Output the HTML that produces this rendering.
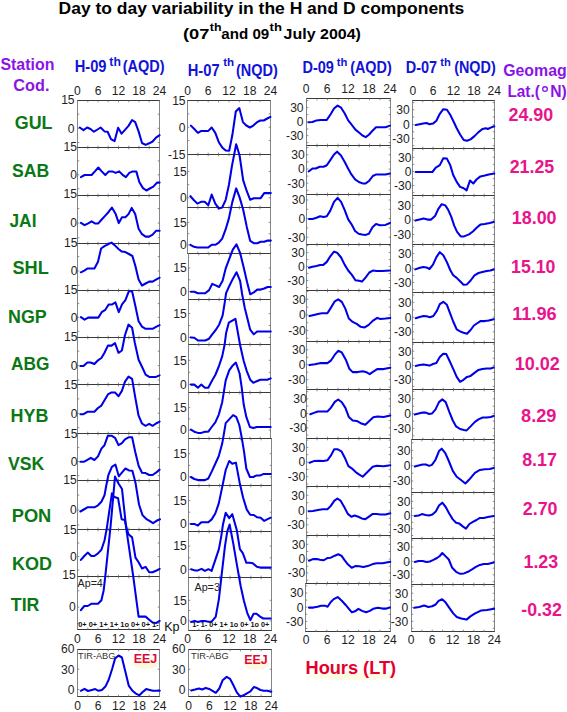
<!DOCTYPE html>
<html><head><meta charset="utf-8"><style>
html,body{margin:0;padding:0;background:#fff;width:567px;height:712px;overflow:hidden}
svg{display:block}
</style></head><body>
<svg width="567" height="712" viewBox="0 0 567 712" font-family='"Liberation Sans", sans-serif'>
<rect width="567" height="712" fill="#ffffff"/>
<ellipse cx="145.5" cy="663.5" rx="12.5" ry="5.5" fill="#fef9dc"/>
<ellipse cx="256.5" cy="664" rx="12.5" ry="5.5" fill="#fef9dc"/>
<ellipse cx="351" cy="676.5" rx="45" ry="3.5" fill="#fffae2"/>
<line x1="77.0" y1="100.5" x2="160.0" y2="100.5" stroke="#3a3a3a" stroke-width="1"/>
<line x1="77.0" y1="147.5" x2="160.0" y2="147.5" stroke="#3a3a3a" stroke-width="1"/>
<line x1="77.5" y1="100.5" x2="77.5" y2="147.5" stroke="#858585" stroke-width="1"/>
<line x1="159.5" y1="100.5" x2="159.5" y2="147.5" stroke="#858585" stroke-width="1"/>
<path d="M87.8 100.5v1.8M87.8 147.5v-1.8M98.0 100.5v1.8M98.0 147.5v-1.8M108.2 100.5v1.8M108.2 147.5v-1.8M118.5 100.5v1.8M118.5 147.5v-1.8M128.8 100.5v1.8M128.8 147.5v-1.8M139.0 100.5v1.8M139.0 147.5v-1.8M149.2 100.5v1.8M149.2 147.5v-1.8M77.5 114.2h1.8M159.5 114.2h-1.8M77.5 128.3h1.8M159.5 128.3h-1.8M77.5 142.5h1.8M159.5 142.5h-1.8" stroke="#707070" stroke-width="0.8" fill="none"/>
<line x1="77.0" y1="147.5" x2="160.0" y2="147.5" stroke="#3a3a3a" stroke-width="1"/>
<line x1="77.0" y1="195.5" x2="160.0" y2="195.5" stroke="#3a3a3a" stroke-width="1"/>
<line x1="77.5" y1="147.5" x2="77.5" y2="195.5" stroke="#858585" stroke-width="1"/>
<line x1="159.5" y1="147.5" x2="159.5" y2="195.5" stroke="#858585" stroke-width="1"/>
<path d="M87.8 147.5v1.8M87.8 195.5v-1.8M98.0 147.5v1.8M98.0 195.5v-1.8M108.2 147.5v1.8M108.2 195.5v-1.8M118.5 147.5v1.8M118.5 195.5v-1.8M128.8 147.5v1.8M128.8 195.5v-1.8M139.0 147.5v1.8M139.0 195.5v-1.8M149.2 147.5v1.8M149.2 195.5v-1.8M77.5 160.9h1.8M159.5 160.9h-1.8M77.5 174.8h1.8M159.5 174.8h-1.8M77.5 188.7h1.8M159.5 188.7h-1.8" stroke="#707070" stroke-width="0.8" fill="none"/>
<line x1="77.0" y1="195.5" x2="160.0" y2="195.5" stroke="#3a3a3a" stroke-width="1"/>
<line x1="77.0" y1="243.5" x2="160.0" y2="243.5" stroke="#3a3a3a" stroke-width="1"/>
<line x1="77.5" y1="195.5" x2="77.5" y2="243.5" stroke="#858585" stroke-width="1"/>
<line x1="159.5" y1="195.5" x2="159.5" y2="243.5" stroke="#858585" stroke-width="1"/>
<path d="M87.8 195.5v1.8M87.8 243.5v-1.8M98.0 195.5v1.8M98.0 243.5v-1.8M108.2 195.5v1.8M108.2 243.5v-1.8M118.5 195.5v1.8M118.5 243.5v-1.8M128.8 195.5v1.8M128.8 243.5v-1.8M139.0 195.5v1.8M139.0 243.5v-1.8M149.2 195.5v1.8M149.2 243.5v-1.8M77.5 208.5h1.8M159.5 208.5h-1.8M77.5 223.1h1.8M159.5 223.1h-1.8M77.5 237.7h1.8M159.5 237.7h-1.8" stroke="#707070" stroke-width="0.8" fill="none"/>
<line x1="77.0" y1="243.5" x2="160.0" y2="243.5" stroke="#3a3a3a" stroke-width="1"/>
<line x1="77.0" y1="290.5" x2="160.0" y2="290.5" stroke="#3a3a3a" stroke-width="1"/>
<line x1="77.5" y1="243.5" x2="77.5" y2="290.5" stroke="#858585" stroke-width="1"/>
<line x1="159.5" y1="243.5" x2="159.5" y2="290.5" stroke="#858585" stroke-width="1"/>
<path d="M87.8 243.5v1.8M87.8 290.5v-1.8M98.0 243.5v1.8M98.0 290.5v-1.8M108.2 243.5v1.8M108.2 290.5v-1.8M118.5 243.5v1.8M118.5 290.5v-1.8M128.8 243.5v1.8M128.8 290.5v-1.8M139.0 243.5v1.8M139.0 290.5v-1.8M149.2 243.5v1.8M149.2 290.5v-1.8M77.5 256.6h1.8M159.5 256.6h-1.8M77.5 271.0h1.8M159.5 271.0h-1.8M77.5 285.4h1.8M159.5 285.4h-1.8" stroke="#707070" stroke-width="0.8" fill="none"/>
<line x1="77.0" y1="290.5" x2="160.0" y2="290.5" stroke="#3a3a3a" stroke-width="1"/>
<line x1="77.0" y1="337.5" x2="160.0" y2="337.5" stroke="#3a3a3a" stroke-width="1"/>
<line x1="77.5" y1="290.5" x2="77.5" y2="337.5" stroke="#858585" stroke-width="1"/>
<line x1="159.5" y1="290.5" x2="159.5" y2="337.5" stroke="#858585" stroke-width="1"/>
<path d="M87.8 290.5v1.8M87.8 337.5v-1.8M98.0 290.5v1.8M98.0 337.5v-1.8M108.2 290.5v1.8M108.2 337.5v-1.8M118.5 290.5v1.8M118.5 337.5v-1.8M128.8 290.5v1.8M128.8 337.5v-1.8M139.0 290.5v1.8M139.0 337.5v-1.8M149.2 290.5v1.8M149.2 337.5v-1.8M77.5 303.6h1.8M159.5 303.6h-1.8M77.5 317.4h1.8M159.5 317.4h-1.8M77.5 331.2h1.8M159.5 331.2h-1.8" stroke="#707070" stroke-width="0.8" fill="none"/>
<line x1="77.0" y1="337.5" x2="160.0" y2="337.5" stroke="#3a3a3a" stroke-width="1"/>
<line x1="77.0" y1="384.5" x2="160.0" y2="384.5" stroke="#3a3a3a" stroke-width="1"/>
<line x1="77.5" y1="337.5" x2="77.5" y2="384.5" stroke="#858585" stroke-width="1"/>
<line x1="159.5" y1="337.5" x2="159.5" y2="384.5" stroke="#858585" stroke-width="1"/>
<path d="M87.8 337.5v1.8M87.8 384.5v-1.8M98.0 337.5v1.8M98.0 384.5v-1.8M108.2 337.5v1.8M108.2 384.5v-1.8M118.5 337.5v1.8M118.5 384.5v-1.8M128.8 337.5v1.8M128.8 384.5v-1.8M139.0 337.5v1.8M139.0 384.5v-1.8M149.2 337.5v1.8M149.2 384.5v-1.8M77.5 351.2h1.8M159.5 351.2h-1.8M77.5 365.6h1.8M159.5 365.6h-1.8M77.5 380.0h1.8M159.5 380.0h-1.8" stroke="#707070" stroke-width="0.8" fill="none"/>
<line x1="77.0" y1="384.5" x2="160.0" y2="384.5" stroke="#3a3a3a" stroke-width="1"/>
<line x1="77.0" y1="433.5" x2="160.0" y2="433.5" stroke="#3a3a3a" stroke-width="1"/>
<line x1="77.5" y1="384.5" x2="77.5" y2="433.5" stroke="#858585" stroke-width="1"/>
<line x1="159.5" y1="384.5" x2="159.5" y2="433.5" stroke="#858585" stroke-width="1"/>
<path d="M87.8 384.5v1.8M87.8 433.5v-1.8M98.0 384.5v1.8M98.0 433.5v-1.8M108.2 384.5v1.8M108.2 433.5v-1.8M118.5 384.5v1.8M118.5 433.5v-1.8M128.8 384.5v1.8M128.8 433.5v-1.8M139.0 384.5v1.8M139.0 433.5v-1.8M149.2 384.5v1.8M149.2 433.5v-1.8M77.5 398.9h1.8M159.5 398.9h-1.8M77.5 413.3h1.8M159.5 413.3h-1.8M77.5 427.7h1.8M159.5 427.7h-1.8" stroke="#707070" stroke-width="0.8" fill="none"/>
<line x1="77.0" y1="433.5" x2="160.0" y2="433.5" stroke="#3a3a3a" stroke-width="1"/>
<line x1="77.0" y1="480.5" x2="160.0" y2="480.5" stroke="#3a3a3a" stroke-width="1"/>
<line x1="77.5" y1="433.5" x2="77.5" y2="480.5" stroke="#858585" stroke-width="1"/>
<line x1="159.5" y1="433.5" x2="159.5" y2="480.5" stroke="#858585" stroke-width="1"/>
<path d="M87.8 433.5v1.8M87.8 480.5v-1.8M98.0 433.5v1.8M98.0 480.5v-1.8M108.2 433.5v1.8M108.2 480.5v-1.8M118.5 433.5v1.8M118.5 480.5v-1.8M128.8 433.5v1.8M128.8 480.5v-1.8M139.0 433.5v1.8M139.0 480.5v-1.8M149.2 433.5v1.8M149.2 480.5v-1.8M77.5 447.6h1.8M159.5 447.6h-1.8M77.5 461.6h1.8M159.5 461.6h-1.8M77.5 475.7h1.8M159.5 475.7h-1.8" stroke="#707070" stroke-width="0.8" fill="none"/>
<line x1="77.0" y1="480.5" x2="160.0" y2="480.5" stroke="#3a3a3a" stroke-width="1"/>
<line x1="77.0" y1="529.5" x2="160.0" y2="529.5" stroke="#3a3a3a" stroke-width="1"/>
<line x1="77.5" y1="480.5" x2="77.5" y2="529.5" stroke="#858585" stroke-width="1"/>
<line x1="159.5" y1="480.5" x2="159.5" y2="529.5" stroke="#858585" stroke-width="1"/>
<path d="M87.8 480.5v1.8M87.8 529.5v-1.8M98.0 480.5v1.8M98.0 529.5v-1.8M108.2 480.5v1.8M108.2 529.5v-1.8M118.5 480.5v1.8M118.5 529.5v-1.8M128.8 480.5v1.8M128.8 529.5v-1.8M139.0 480.5v1.8M139.0 529.5v-1.8M149.2 480.5v1.8M149.2 529.5v-1.8M77.5 495.1h1.8M159.5 495.1h-1.8M77.5 510.0h1.8M159.5 510.0h-1.8M77.5 525.0h1.8M159.5 525.0h-1.8" stroke="#707070" stroke-width="0.8" fill="none"/>
<line x1="77.0" y1="529.5" x2="160.0" y2="529.5" stroke="#3a3a3a" stroke-width="1"/>
<line x1="77.0" y1="576.5" x2="160.0" y2="576.5" stroke="#3a3a3a" stroke-width="1"/>
<line x1="77.5" y1="529.5" x2="77.5" y2="576.5" stroke="#858585" stroke-width="1"/>
<line x1="159.5" y1="529.5" x2="159.5" y2="576.5" stroke="#858585" stroke-width="1"/>
<path d="M87.8 529.5v1.8M87.8 576.5v-1.8M98.0 529.5v1.8M98.0 576.5v-1.8M108.2 529.5v1.8M108.2 576.5v-1.8M118.5 529.5v1.8M118.5 576.5v-1.8M128.8 529.5v1.8M128.8 576.5v-1.8M139.0 529.5v1.8M139.0 576.5v-1.8M149.2 529.5v1.8M149.2 576.5v-1.8M77.5 543.0h1.8M159.5 543.0h-1.8M77.5 556.5h1.8M159.5 556.5h-1.8M77.5 570.0h1.8M159.5 570.0h-1.8" stroke="#707070" stroke-width="0.8" fill="none"/>
<line x1="77.0" y1="576.5" x2="160.0" y2="576.5" stroke="#3a3a3a" stroke-width="1"/>
<line x1="77.0" y1="629.5" x2="160.0" y2="629.5" stroke="#3a3a3a" stroke-width="1"/>
<line x1="77.5" y1="576.5" x2="77.5" y2="629.5" stroke="#858585" stroke-width="1"/>
<line x1="159.5" y1="576.5" x2="159.5" y2="629.5" stroke="#858585" stroke-width="1"/>
<path d="M87.8 576.5v1.8M87.8 629.5v-1.8M98.0 576.5v1.8M98.0 629.5v-1.8M108.2 576.5v1.8M108.2 629.5v-1.8M118.5 576.5v1.8M118.5 629.5v-1.8M128.8 576.5v1.8M128.8 629.5v-1.8M139.0 576.5v1.8M139.0 629.5v-1.8M149.2 576.5v1.8M149.2 629.5v-1.8M77.5 590.8h1.8M159.5 590.8h-1.8M77.5 607.1h1.8M159.5 607.1h-1.8M77.5 623.4h1.8M159.5 623.4h-1.8" stroke="#707070" stroke-width="0.8" fill="none"/>
<text x="74.6" y="104.3" font-size="12.1" fill="#1e1e1e" text-anchor="end">15</text>
<text x="74.6" y="132.6" font-size="12.1" fill="#1e1e1e" text-anchor="end">0</text>
<text x="77.0" y="151.4" font-size="12.1" fill="#1e1e1e" text-anchor="end">15</text>
<text x="77.0" y="179.1" font-size="12.1" fill="#1e1e1e" text-anchor="end">0</text>
<text x="77.0" y="198.2" font-size="12.1" fill="#1e1e1e" text-anchor="end">15</text>
<text x="77.0" y="227.4" font-size="12.1" fill="#1e1e1e" text-anchor="end">0</text>
<text x="77.5" y="246.5" font-size="12.1" fill="#1e1e1e" text-anchor="end">15</text>
<text x="77.5" y="275.3" font-size="12.1" fill="#1e1e1e" text-anchor="end">0</text>
<text x="77.5" y="294.1" font-size="12.1" fill="#1e1e1e" text-anchor="end">15</text>
<text x="77.5" y="321.7" font-size="12.1" fill="#1e1e1e" text-anchor="end">0</text>
<text x="77.5" y="341.2" font-size="12.1" fill="#1e1e1e" text-anchor="end">15</text>
<text x="77.5" y="369.9" font-size="12.1" fill="#1e1e1e" text-anchor="end">0</text>
<text x="77.5" y="388.8" font-size="12.1" fill="#1e1e1e" text-anchor="end">15</text>
<text x="77.5" y="417.6" font-size="12.1" fill="#1e1e1e" text-anchor="end">0</text>
<text x="77.5" y="437.8" font-size="12.1" fill="#1e1e1e" text-anchor="end">15</text>
<text x="77.5" y="465.9" font-size="12.1" fill="#1e1e1e" text-anchor="end">0</text>
<text x="76.8" y="484.4" font-size="12.1" fill="#1e1e1e" text-anchor="end">15</text>
<text x="76.8" y="514.3" font-size="12.1" fill="#1e1e1e" text-anchor="end">0</text>
<text x="76.8" y="533.9" font-size="12.1" fill="#1e1e1e" text-anchor="end">15</text>
<text x="76.8" y="560.8" font-size="12.1" fill="#1e1e1e" text-anchor="end">0</text>
<text x="75.7" y="578.8" font-size="12.1" fill="#1e1e1e" text-anchor="end">15</text>
<text x="75.7" y="611.4" font-size="12.1" fill="#1e1e1e" text-anchor="end">0</text>
<polyline points="79.7,127.5 83.5,130.1 87.1,127.5 90.5,129.0 93.9,131.7 97.5,129.5 100.6,127.5 104.5,131.4 107.6,131.7 111.0,139.1 114.6,141.1 118.1,127.8 121.6,133.7 125.0,129.8 128.5,125.9 132.1,120.0 135.2,122.1 138.6,131.4 142.0,143.0 145.6,144.9 149.2,143.3 152.6,141.5 156.0,137.6 159.6,135.2" fill="none" stroke="#0000e8" stroke-width="2.05" stroke-linejoin="round" stroke-linecap="round"/>
<polyline points="80.9,177.1 84.6,175.0 88.2,175.0 91.6,175.0 94.9,171.4 98.3,167.5 101.7,171.4 105.3,175.0 108.8,171.4 112.2,171.4 115.7,172.9 119.2,171.4 122.6,174.8 125.9,177.1 129.3,172.9 132.7,171.4 136.3,171.4 139.4,182.2 143.0,188.1 146.4,190.5 149.8,188.5 153.4,186.6 157.0,182.6 159.6,182.6" fill="none" stroke="#0000e8" stroke-width="2.05" stroke-linejoin="round" stroke-linecap="round"/>
<polyline points="80.9,222.9 84.6,225.2 88.2,223.4 91.6,221.4 94.9,223.4 98.3,223.4 101.7,219.5 105.3,215.6 108.8,211.7 111.9,207.5 115.7,214.1 118.8,223.1 122.0,217.2 125.4,217.2 128.5,214.1 131.7,207.9 135.2,214.1 138.6,228.8 142.0,234.2 145.6,236.6 149.2,236.6 152.6,234.7 156.0,230.8 159.6,230.8" fill="none" stroke="#0000e8" stroke-width="2.05" stroke-linejoin="round" stroke-linecap="round"/>
<polyline points="80.9,272.3 84.3,270.6 87.7,268.4 91.3,268.4 94.4,268.4 98.0,261.7 101.1,248.5 104.5,246.2 107.9,244.3 111.5,242.6 114.9,245.4 118.5,249.0 121.9,251.6 125.4,252.1 128.9,254.0 132.4,256.0 135.5,266.4 138.6,279.6 142.0,285.5 145.6,283.5 149.2,281.6 152.6,281.6 156.0,279.6 159.6,277.7" fill="none" stroke="#0000e8" stroke-width="2.05" stroke-linejoin="round" stroke-linecap="round"/>
<polyline points="80.9,317.1 84.6,319.6 88.2,317.6 91.6,317.6 94.9,317.6 98.3,317.6 101.7,312.2 105.3,309.8 108.8,304.4 112.2,304.4 115.4,302.4 118.8,312.2 122.0,304.4 125.4,300.2 128.9,291.2 132.1,291.2 135.2,305.2 138.6,321.2 142.0,326.6 145.6,328.8 149.2,328.8 152.6,328.8 156.0,326.9 159.6,325.1" fill="none" stroke="#0000e8" stroke-width="2.05" stroke-linejoin="round" stroke-linecap="round"/>
<polyline points="80.4,366.0 83.5,366.0 87.4,362.5 90.5,362.5 94.4,364.0 98.0,360.3 101.4,358.0 104.5,352.8 107.9,345.6 111.5,345.6 115.0,343.2 118.5,352.8 121.9,350.5 125.0,335.0 128.5,324.6 132.1,327.7 134.8,342.8 138.6,359.8 142.0,366.8 145.6,374.6 149.2,376.9 152.6,376.9 156.0,376.9 159.6,375.4" fill="none" stroke="#0000e8" stroke-width="2.05" stroke-linejoin="round" stroke-linecap="round"/>
<polyline points="80.4,414.2 83.5,414.2 87.4,411.8 90.5,411.8 94.4,411.8 98.0,408.0 101.4,405.6 104.5,400.2 107.9,394.4 111.5,392.4 115.0,392.4 118.5,396.3 121.9,390.9 125.0,381.6 128.5,376.6 132.1,378.9 135.2,397.1 138.6,415.7 142.0,423.5 145.6,425.8 149.2,423.8 152.6,425.8 156.0,423.5 159.6,421.6" fill="none" stroke="#0000e8" stroke-width="2.05" stroke-linejoin="round" stroke-linecap="round"/>
<polyline points="80.4,461.8 83.8,461.8 87.4,459.8 90.8,457.9 94.4,460.0 98.0,456.4 101.4,448.6 104.5,445.2 107.9,435.7 111.5,435.7 115.0,437.8 118.5,445.1 121.9,443.2 125.0,439.3 128.5,437.3 132.1,437.3 135.2,451.7 138.6,465.7 142.0,472.7 145.6,473.1 149.2,475.0 152.6,475.0 156.0,472.7 159.6,469.6" fill="none" stroke="#0000e8" stroke-width="2.05" stroke-linejoin="round" stroke-linecap="round"/>
<polyline points="80.4,511.5 83.8,509.5 87.4,507.3 90.8,507.3 94.4,507.3 98.0,505.3 101.4,501.7 104.5,495.2 106.8,482.8 108.4,475.0 111.9,466.8 115.4,464.5 118.8,476.3 122.3,472.2 125.4,468.5 129.0,470.4 132.4,470.7 135.5,482.8 139.0,504.5 142.5,515.1 146.1,518.8 149.5,520.8 153.1,523.1 156.5,520.8 160.0,519.2" fill="none" stroke="#0000e8" stroke-width="2.05" stroke-linejoin="round" stroke-linecap="round"/>
<polyline points="80.9,559.9 84.3,556.0 87.7,552.6 91.3,556.0 94.4,556.0 98.0,553.4 101.4,549.8 104.5,540.5 106.8,528.1 111.9,493.3 113.8,496.7 118.1,498.3 121.6,519.2 124.7,520.0 127.0,529.7 128.5,534.3 132.1,537.4 135.5,557.6 138.6,562.3 142.0,568.5 145.6,566.9 149.2,572.3 152.6,572.3 156.0,570.8 159.6,568.8" fill="none" stroke="#0000e8" stroke-width="2.05" stroke-linejoin="round" stroke-linecap="round"/>
<polyline points="80.9,610.1 84.3,606.0 87.7,606.0 91.3,603.8 94.4,603.8 98.0,603.8 101.4,600.3 103.7,590.2 105.3,576.2 110.7,525.0 115.0,476.6 118.5,483.5 122.0,489.0 126.2,528.1 133.2,576.2 138.6,616.6 142.0,616.6 145.6,616.6 149.2,619.7 152.6,622.5 156.0,623.1 159.6,620.9" fill="none" stroke="#0000e8" stroke-width="2.05" stroke-linejoin="round" stroke-linecap="round"/>
<line x1="187.0" y1="100.5" x2="271.0" y2="100.5" stroke="#3a3a3a" stroke-width="1"/>
<line x1="187.0" y1="154.5" x2="271.0" y2="154.5" stroke="#3a3a3a" stroke-width="1"/>
<line x1="187.5" y1="100.5" x2="187.5" y2="154.5" stroke="#858585" stroke-width="1"/>
<line x1="270.5" y1="100.5" x2="270.5" y2="154.5" stroke="#858585" stroke-width="1"/>
<path d="M197.9 100.5v1.8M197.9 154.5v-1.8M208.2 100.5v1.8M208.2 154.5v-1.8M218.6 100.5v1.8M218.6 154.5v-1.8M229.0 100.5v1.8M229.0 154.5v-1.8M239.4 100.5v1.8M239.4 154.5v-1.8M249.8 100.5v1.8M249.8 154.5v-1.8M260.1 100.5v1.8M260.1 154.5v-1.8M187.5 113.9h1.8M270.5 113.9h-1.8M187.5 127.2h1.8M270.5 127.2h-1.8M187.5 140.5h1.8M270.5 140.5h-1.8" stroke="#707070" stroke-width="0.8" fill="none"/>
<line x1="187.0" y1="154.5" x2="271.0" y2="154.5" stroke="#3a3a3a" stroke-width="1"/>
<line x1="187.0" y1="207.5" x2="271.0" y2="207.5" stroke="#3a3a3a" stroke-width="1"/>
<line x1="187.5" y1="154.5" x2="187.5" y2="207.5" stroke="#858585" stroke-width="1"/>
<line x1="270.5" y1="154.5" x2="270.5" y2="207.5" stroke="#858585" stroke-width="1"/>
<path d="M197.9 154.5v1.8M197.9 207.5v-1.8M208.2 154.5v1.8M208.2 207.5v-1.8M218.6 154.5v1.8M218.6 207.5v-1.8M229.0 154.5v1.8M229.0 207.5v-1.8M239.4 154.5v1.8M239.4 207.5v-1.8M249.8 154.5v1.8M249.8 207.5v-1.8M260.1 154.5v1.8M260.1 207.5v-1.8M187.5 171.5h1.8M270.5 171.5h-1.8M187.5 184.7h1.8M270.5 184.7h-1.8M187.5 197.8h1.8M270.5 197.8h-1.8" stroke="#707070" stroke-width="0.8" fill="none"/>
<line x1="187.0" y1="207.5" x2="271.0" y2="207.5" stroke="#3a3a3a" stroke-width="1"/>
<line x1="187.0" y1="253.5" x2="271.0" y2="253.5" stroke="#3a3a3a" stroke-width="1"/>
<line x1="187.5" y1="207.5" x2="187.5" y2="253.5" stroke="#858585" stroke-width="1"/>
<line x1="270.5" y1="207.5" x2="270.5" y2="253.5" stroke="#858585" stroke-width="1"/>
<path d="M197.9 207.5v1.8M197.9 253.5v-1.8M208.2 207.5v1.8M208.2 253.5v-1.8M218.6 207.5v1.8M218.6 253.5v-1.8M229.0 207.5v1.8M229.0 253.5v-1.8M239.4 207.5v1.8M239.4 253.5v-1.8M249.8 207.5v1.8M249.8 253.5v-1.8M260.1 207.5v1.8M260.1 253.5v-1.8M187.5 222.4h1.8M270.5 222.4h-1.8M187.5 233.7h1.8M270.5 233.7h-1.8M187.5 245.0h1.8M270.5 245.0h-1.8" stroke="#707070" stroke-width="0.8" fill="none"/>
<line x1="188.0" y1="253.5" x2="271.0" y2="253.5" stroke="#3a3a3a" stroke-width="1"/>
<line x1="188.0" y1="299.5" x2="271.0" y2="299.5" stroke="#3a3a3a" stroke-width="1"/>
<line x1="188.5" y1="253.5" x2="188.5" y2="299.5" stroke="#858585" stroke-width="1"/>
<line x1="270.5" y1="253.5" x2="270.5" y2="299.5" stroke="#858585" stroke-width="1"/>
<path d="M198.8 253.5v1.8M198.8 299.5v-1.8M209.0 253.5v1.8M209.0 299.5v-1.8M219.2 253.5v1.8M219.2 299.5v-1.8M229.5 253.5v1.8M229.5 299.5v-1.8M239.8 253.5v1.8M239.8 299.5v-1.8M250.0 253.5v1.8M250.0 299.5v-1.8M260.2 253.5v1.8M260.2 299.5v-1.8M188.5 268.0h1.8M270.5 268.0h-1.8M188.5 279.8h1.8M270.5 279.8h-1.8M188.5 291.6h1.8M270.5 291.6h-1.8" stroke="#707070" stroke-width="0.8" fill="none"/>
<line x1="188.0" y1="299.5" x2="271.0" y2="299.5" stroke="#3a3a3a" stroke-width="1"/>
<line x1="188.0" y1="344.5" x2="271.0" y2="344.5" stroke="#3a3a3a" stroke-width="1"/>
<line x1="188.5" y1="299.5" x2="188.5" y2="344.5" stroke="#858585" stroke-width="1"/>
<line x1="270.5" y1="299.5" x2="270.5" y2="344.5" stroke="#858585" stroke-width="1"/>
<path d="M198.8 299.5v1.8M198.8 344.5v-1.8M209.0 299.5v1.8M209.0 344.5v-1.8M219.2 299.5v1.8M219.2 344.5v-1.8M229.5 299.5v1.8M229.5 344.5v-1.8M239.8 299.5v1.8M239.8 344.5v-1.8M250.0 299.5v1.8M250.0 344.5v-1.8M260.2 299.5v1.8M260.2 344.5v-1.8M188.5 313.6h1.8M270.5 313.6h-1.8M188.5 325.5h1.8M270.5 325.5h-1.8M188.5 337.4h1.8M270.5 337.4h-1.8" stroke="#707070" stroke-width="0.8" fill="none"/>
<line x1="188.0" y1="344.5" x2="271.0" y2="344.5" stroke="#3a3a3a" stroke-width="1"/>
<line x1="188.0" y1="392.5" x2="271.0" y2="392.5" stroke="#3a3a3a" stroke-width="1"/>
<line x1="188.5" y1="344.5" x2="188.5" y2="392.5" stroke="#858585" stroke-width="1"/>
<line x1="270.5" y1="344.5" x2="270.5" y2="392.5" stroke="#858585" stroke-width="1"/>
<path d="M198.8 344.5v1.8M198.8 392.5v-1.8M209.0 344.5v1.8M209.0 392.5v-1.8M219.2 344.5v1.8M219.2 392.5v-1.8M229.5 344.5v1.8M229.5 392.5v-1.8M239.8 344.5v1.8M239.8 392.5v-1.8M250.0 344.5v1.8M250.0 392.5v-1.8M260.2 344.5v1.8M260.2 392.5v-1.8M188.5 360.3h1.8M270.5 360.3h-1.8M188.5 372.3h1.8M270.5 372.3h-1.8M188.5 384.3h1.8M270.5 384.3h-1.8" stroke="#707070" stroke-width="0.8" fill="none"/>
<line x1="188.0" y1="392.5" x2="271.0" y2="392.5" stroke="#3a3a3a" stroke-width="1"/>
<line x1="188.0" y1="438.5" x2="271.0" y2="438.5" stroke="#3a3a3a" stroke-width="1"/>
<line x1="188.5" y1="392.5" x2="188.5" y2="438.5" stroke="#858585" stroke-width="1"/>
<line x1="270.5" y1="392.5" x2="270.5" y2="438.5" stroke="#858585" stroke-width="1"/>
<path d="M198.8 392.5v1.8M198.8 438.5v-1.8M209.0 392.5v1.8M209.0 438.5v-1.8M219.2 392.5v1.8M219.2 438.5v-1.8M229.5 392.5v1.8M229.5 438.5v-1.8M239.8 392.5v1.8M239.8 438.5v-1.8M250.0 392.5v1.8M250.0 438.5v-1.8M260.2 392.5v1.8M260.2 438.5v-1.8M188.5 407.6h1.8M270.5 407.6h-1.8M188.5 418.9h1.8M270.5 418.9h-1.8M188.5 430.1h1.8M270.5 430.1h-1.8" stroke="#707070" stroke-width="0.8" fill="none"/>
<line x1="188.0" y1="438.5" x2="272.0" y2="438.5" stroke="#3a3a3a" stroke-width="1"/>
<line x1="188.0" y1="485.5" x2="272.0" y2="485.5" stroke="#3a3a3a" stroke-width="1"/>
<line x1="188.5" y1="438.5" x2="188.5" y2="485.5" stroke="#858585" stroke-width="1"/>
<line x1="271.5" y1="438.5" x2="271.5" y2="485.5" stroke="#858585" stroke-width="1"/>
<path d="M198.9 438.5v1.8M198.9 485.5v-1.8M209.2 438.5v1.8M209.2 485.5v-1.8M219.6 438.5v1.8M219.6 485.5v-1.8M230.0 438.5v1.8M230.0 485.5v-1.8M240.4 438.5v1.8M240.4 485.5v-1.8M250.8 438.5v1.8M250.8 485.5v-1.8M261.1 438.5v1.8M261.1 485.5v-1.8M188.5 453.7h1.8M271.5 453.7h-1.8M188.5 465.4h1.8M271.5 465.4h-1.8M188.5 477.0h1.8M271.5 477.0h-1.8" stroke="#707070" stroke-width="0.8" fill="none"/>
<line x1="188.0" y1="485.5" x2="272.0" y2="485.5" stroke="#3a3a3a" stroke-width="1"/>
<line x1="188.0" y1="531.5" x2="272.0" y2="531.5" stroke="#3a3a3a" stroke-width="1"/>
<line x1="188.5" y1="485.5" x2="188.5" y2="531.5" stroke="#858585" stroke-width="1"/>
<line x1="271.5" y1="485.5" x2="271.5" y2="531.5" stroke="#858585" stroke-width="1"/>
<path d="M198.9 485.5v1.8M198.9 531.5v-1.8M209.2 485.5v1.8M209.2 531.5v-1.8M219.6 485.5v1.8M219.6 531.5v-1.8M230.0 485.5v1.8M230.0 531.5v-1.8M240.4 485.5v1.8M240.4 531.5v-1.8M250.8 485.5v1.8M250.8 531.5v-1.8M261.1 485.5v1.8M261.1 531.5v-1.8M188.5 500.6h1.8M271.5 500.6h-1.8M188.5 512.2h1.8M271.5 512.2h-1.8M188.5 523.7h1.8M271.5 523.7h-1.8" stroke="#707070" stroke-width="0.8" fill="none"/>
<line x1="188.0" y1="531.5" x2="272.0" y2="531.5" stroke="#3a3a3a" stroke-width="1"/>
<line x1="188.0" y1="577.5" x2="272.0" y2="577.5" stroke="#3a3a3a" stroke-width="1"/>
<line x1="188.5" y1="531.5" x2="188.5" y2="577.5" stroke="#858585" stroke-width="1"/>
<line x1="271.5" y1="531.5" x2="271.5" y2="577.5" stroke="#858585" stroke-width="1"/>
<path d="M198.9 531.5v1.8M198.9 577.5v-1.8M209.2 531.5v1.8M209.2 577.5v-1.8M219.6 531.5v1.8M219.6 577.5v-1.8M230.0 531.5v1.8M230.0 577.5v-1.8M240.4 531.5v1.8M240.4 577.5v-1.8M250.8 531.5v1.8M250.8 577.5v-1.8M261.1 531.5v1.8M261.1 577.5v-1.8M188.5 546.1h1.8M271.5 546.1h-1.8M188.5 557.8h1.8M271.5 557.8h-1.8M188.5 569.4h1.8M271.5 569.4h-1.8" stroke="#707070" stroke-width="0.8" fill="none"/>
<line x1="188.0" y1="577.5" x2="272.0" y2="577.5" stroke="#3a3a3a" stroke-width="1"/>
<line x1="188.0" y1="630.5" x2="272.0" y2="630.5" stroke="#3a3a3a" stroke-width="1"/>
<line x1="188.5" y1="577.5" x2="188.5" y2="630.5" stroke="#858585" stroke-width="1"/>
<line x1="271.5" y1="577.5" x2="271.5" y2="630.5" stroke="#858585" stroke-width="1"/>
<path d="M198.9 577.5v1.8M198.9 630.5v-1.8M209.2 577.5v1.8M209.2 630.5v-1.8M219.6 577.5v1.8M219.6 630.5v-1.8M230.0 577.5v1.8M230.0 630.5v-1.8M240.4 577.5v1.8M240.4 630.5v-1.8M250.8 577.5v1.8M250.8 630.5v-1.8M261.1 577.5v1.8M261.1 630.5v-1.8M188.5 600.3h1.8M271.5 600.3h-1.8M188.5 610.5h1.8M271.5 610.5h-1.8M188.5 620.8h1.8M271.5 620.8h-1.8" stroke="#707070" stroke-width="0.8" fill="none"/>
<text x="185.6" y="104.9" font-size="12.1" fill="#1e1e1e" text-anchor="end">15</text>
<text x="185.6" y="131.5" font-size="12.1" fill="#1e1e1e" text-anchor="end">0</text>
<text x="186.8" y="175.8" font-size="12.1" fill="#1e1e1e" text-anchor="end">15</text>
<text x="186.8" y="202.1" font-size="12.1" fill="#1e1e1e" text-anchor="end">0</text>
<text x="186.8" y="226.7" font-size="12.1" fill="#1e1e1e" text-anchor="end">15</text>
<text x="186.8" y="249.3" font-size="12.1" fill="#1e1e1e" text-anchor="end">0</text>
<text x="186.8" y="272.3" font-size="12.1" fill="#1e1e1e" text-anchor="end">15</text>
<text x="186.8" y="295.9" font-size="12.1" fill="#1e1e1e" text-anchor="end">0</text>
<text x="186.8" y="317.9" font-size="12.1" fill="#1e1e1e" text-anchor="end">15</text>
<text x="186.8" y="341.7" font-size="12.1" fill="#1e1e1e" text-anchor="end">0</text>
<text x="186.8" y="364.6" font-size="12.1" fill="#1e1e1e" text-anchor="end">15</text>
<text x="186.8" y="388.6" font-size="12.1" fill="#1e1e1e" text-anchor="end">0</text>
<text x="186.8" y="411.9" font-size="12.1" fill="#1e1e1e" text-anchor="end">15</text>
<text x="186.8" y="434.4" font-size="12.1" fill="#1e1e1e" text-anchor="end">0</text>
<text x="186.8" y="458.0" font-size="12.1" fill="#1e1e1e" text-anchor="end">15</text>
<text x="186.8" y="481.3" font-size="12.1" fill="#1e1e1e" text-anchor="end">0</text>
<text x="186.8" y="504.9" font-size="12.1" fill="#1e1e1e" text-anchor="end">15</text>
<text x="186.8" y="528.0" font-size="12.1" fill="#1e1e1e" text-anchor="end">0</text>
<text x="186.8" y="550.4" font-size="12.1" fill="#1e1e1e" text-anchor="end">15</text>
<text x="186.8" y="573.7" font-size="12.1" fill="#1e1e1e" text-anchor="end">0</text>
<text x="186.8" y="604.6" font-size="12.1" fill="#1e1e1e" text-anchor="end">15</text>
<text x="186.8" y="625.1" font-size="12.1" fill="#1e1e1e" text-anchor="end">0</text>
<polyline points="190.9,125.6 194.3,129.0 197.9,132.9 201.3,130.9 204.9,130.9 208.3,130.9 211.7,127.5 215.3,132.9 218.8,142.2 222.2,147.4 225.7,150.5 229.2,150.8 232.3,135.3 235.8,111.5 239.3,108.1 242.9,122.1 246.3,125.5 249.9,127.5 253.3,125.6 256.7,122.4 260.3,120.5 263.7,120.5 267.3,118.5 270.4,116.9" fill="none" stroke="#0000e8" stroke-width="2.05" stroke-linejoin="round" stroke-linecap="round"/>
<polyline points="190.4,196.2 194.0,200.2 197.4,203.6 201.0,201.8 204.7,201.8 208.3,205.2 211.7,194.6 215.3,203.6 218.8,208.6 222.2,207.5 225.7,199.8 228.9,185.0 232.0,165.6 236.2,144.3 239.6,155.5 243.2,180.4 246.8,191.2 250.2,199.8 253.8,198.2 257.2,198.2 260.7,198.2 264.2,193.1 267.6,193.1 270.8,193.1" fill="none" stroke="#0000e8" stroke-width="2.05" stroke-linejoin="round" stroke-linecap="round"/>
<polyline points="190.4,244.8 194.0,246.8 197.4,247.4 201.0,247.4 204.7,247.4 208.3,247.4 211.7,244.8 215.3,244.8 218.8,242.7 222.2,238.6 225.7,229.2 228.9,218.4 232.3,202.1 236.2,188.4 239.6,197.4 243.2,209.8 246.8,226.9 250.2,240.9 253.8,243.2 257.2,243.2 260.7,241.7 264.2,241.7 267.6,240.6 270.8,240.6" fill="none" stroke="#0000e8" stroke-width="2.05" stroke-linejoin="round" stroke-linecap="round"/>
<polyline points="190.9,291.7 194.3,291.7 197.9,293.2 201.3,293.2 205.2,293.2 209.1,290.1 212.2,283.9 215.7,285.4 219.1,287.0 222.6,280.8 225.7,268.4 229.2,259.1 232.8,249.7 236.5,244.3 240.1,252.8 243.7,267.6 247.1,282.3 250.2,294.3 253.8,292.4 257.2,289.6 260.7,289.6 264.2,288.5 267.6,287.0 270.8,287.0" fill="none" stroke="#0000e8" stroke-width="2.05" stroke-linejoin="round" stroke-linecap="round"/>
<polyline points="190.9,337.4 194.3,337.7 197.9,340.5 201.3,340.5 205.2,340.5 209.1,338.7 212.2,334.3 215.7,330.0 219.1,324.7 222.6,315.7 224.6,303.3 226.1,293.2 229.2,286.2 232.8,278.9 236.5,272.2 240.1,280.8 242.1,294.0 244.8,308.0 247.1,317.3 250.2,329.7 253.8,334.3 257.2,331.5 260.7,331.5 264.2,331.5 267.6,331.5 270.8,331.5" fill="none" stroke="#0000e8" stroke-width="2.05" stroke-linejoin="round" stroke-linecap="round"/>
<polyline points="190.9,384.6 194.3,384.6 197.9,387.7 201.3,384.6 204.9,387.7 208.3,387.7 211.7,381.2 215.3,375.0 218.8,366.5 222.2,356.4 224.6,344.7 226.1,333.1 228.8,322.7 235.4,318.8 240.1,345.0 243.7,361.0 246.8,371.1 250.2,379.7 253.3,382.8 256.7,381.2 260.3,379.7 263.8,379.7 267.3,379.7 270.7,378.4" fill="none" stroke="#0000e8" stroke-width="2.05" stroke-linejoin="round" stroke-linecap="round"/>
<polyline points="190.9,429.6 194.3,431.7 197.9,432.9 201.3,432.9 204.9,431.7 208.3,431.7 211.7,427.0 215.3,422.3 218.8,414.6 222.2,402.2 223.8,392.1 225.7,380.4 229.2,370.4 232.8,365.4 235.9,362.6 239.6,373.5 241.7,387.4 243.7,404.5 246.3,416.9 249.9,427.0 253.3,428.1 256.7,427.0 260.3,427.0 263.8,427.0 267.3,427.0 270.7,427.0" fill="none" stroke="#0000e8" stroke-width="2.05" stroke-linejoin="round" stroke-linecap="round"/>
<polyline points="190.9,477.0 194.3,479.0 197.9,480.1 201.3,480.1 204.9,480.1 208.3,478.5 211.7,471.6 215.3,463.8 218.8,456.0 222.2,443.6 223.8,434.3 225.7,423.1 233.1,415.1 236.2,416.9 239.3,425.0 241.7,437.4 244.0,451.4 246.3,468.5 249.9,477.0 253.3,477.0 256.7,475.4 260.3,475.4 263.8,473.9 267.3,473.9 270.7,473.9" fill="none" stroke="#0000e8" stroke-width="2.05" stroke-linejoin="round" stroke-linecap="round"/>
<polyline points="190.9,523.9 194.3,523.9 197.9,525.6 201.3,522.3 204.9,522.3 208.3,522.3 211.7,519.4 215.3,513.5 218.8,503.4 222.2,487.1 225.7,470.0 229.2,461.0 232.3,463.8 235.9,462.6 239.6,482.4 243.2,498.0 246.8,509.6 250.2,514.7 253.8,515.0 257.2,517.3 260.7,517.8 264.2,520.9 267.6,519.2 270.7,517.7" fill="none" stroke="#0000e8" stroke-width="2.05" stroke-linejoin="round" stroke-linecap="round"/>
<polyline points="191.1,569.2 194.7,570.4 197.9,570.4 201.6,568.9 204.9,570.9 208.4,569.2 211.6,570.9 214.9,561.2 218.9,549.1 221.3,536.1 222.9,524.8 225.7,512.7 229.2,518.1 232.3,514.2 236.7,529.7 239.9,549.1 242.8,553.1 246.4,562.8 249.6,562.8 252.8,563.3 256.9,566.8 260.1,567.6 263.8,567.6 267.4,567.6 270.6,567.6" fill="none" stroke="#0000e8" stroke-width="2.05" stroke-linejoin="round" stroke-linecap="round"/>
<polyline points="191.1,622.0 194.7,620.9 197.9,622.0 201.6,620.9 204.9,620.9 208.4,621.7 211.6,621.7 215.7,616.9 218.9,599.1 221.8,573.3 225.0,545.8 227.3,531.3 229.6,524.5 233.1,542.6 236.7,563.6 240.7,586.2 243.9,600.7 247.2,612.8 250.4,620.1 253.6,613.7 256.5,613.7 260.1,616.6 263.3,618.5 267.4,618.5 270.6,618.5" fill="none" stroke="#0000e8" stroke-width="2.05" stroke-linejoin="round" stroke-linecap="round"/>
<text x="185.4" y="158.6" font-size="12.1" fill="#1e1e1e" text-anchor="end">-15</text>
<line x1="306.0" y1="98.5" x2="391.0" y2="98.5" stroke="#3a3a3a" stroke-width="1"/>
<line x1="306.0" y1="145.5" x2="391.0" y2="145.5" stroke="#3a3a3a" stroke-width="1"/>
<line x1="306.5" y1="98.5" x2="306.5" y2="145.5" stroke="#858585" stroke-width="1"/>
<line x1="390.5" y1="98.5" x2="390.5" y2="145.5" stroke="#858585" stroke-width="1"/>
<path d="M317.0 98.5v1.8M317.0 145.5v-1.8M327.5 98.5v1.8M327.5 145.5v-1.8M338.0 98.5v1.8M338.0 145.5v-1.8M348.5 98.5v1.8M348.5 145.5v-1.8M359.0 98.5v1.8M359.0 145.5v-1.8M369.5 98.5v1.8M369.5 145.5v-1.8M380.0 98.5v1.8M380.0 145.5v-1.8M306.5 100.6h1.8M390.5 100.6h-1.8M306.5 107.6h1.8M390.5 107.6h-1.8M306.5 114.6h1.8M390.5 114.6h-1.8M306.5 122.0h1.8M390.5 122.0h-1.8M306.5 129.0h1.8M390.5 129.0h-1.8M306.5 135.6h1.8M390.5 135.6h-1.8M306.5 142.6h1.8M390.5 142.6h-1.8" stroke="#707070" stroke-width="0.8" fill="none"/>
<line x1="306.0" y1="145.5" x2="391.0" y2="145.5" stroke="#3a3a3a" stroke-width="1"/>
<line x1="306.0" y1="194.5" x2="391.0" y2="194.5" stroke="#3a3a3a" stroke-width="1"/>
<line x1="306.5" y1="145.5" x2="306.5" y2="194.5" stroke="#858585" stroke-width="1"/>
<line x1="390.5" y1="145.5" x2="390.5" y2="194.5" stroke="#858585" stroke-width="1"/>
<path d="M317.0 145.5v1.8M317.0 194.5v-1.8M327.5 145.5v1.8M327.5 194.5v-1.8M338.0 145.5v1.8M338.0 194.5v-1.8M348.5 145.5v1.8M348.5 194.5v-1.8M359.0 145.5v1.8M359.0 194.5v-1.8M369.5 145.5v1.8M369.5 194.5v-1.8M380.0 145.5v1.8M380.0 194.5v-1.8M306.5 147.7h1.8M390.5 147.7h-1.8M306.5 154.8h1.8M390.5 154.8h-1.8M306.5 161.9h1.8M390.5 161.9h-1.8M306.5 169.0h1.8M390.5 169.0h-1.8M306.5 176.1h1.8M390.5 176.1h-1.8M306.5 183.2h1.8M390.5 183.2h-1.8M306.5 190.3h1.8M390.5 190.3h-1.8" stroke="#707070" stroke-width="0.8" fill="none"/>
<line x1="306.0" y1="194.5" x2="391.0" y2="194.5" stroke="#3a3a3a" stroke-width="1"/>
<line x1="306.0" y1="244.5" x2="391.0" y2="244.5" stroke="#3a3a3a" stroke-width="1"/>
<line x1="306.5" y1="194.5" x2="306.5" y2="244.5" stroke="#858585" stroke-width="1"/>
<line x1="390.5" y1="194.5" x2="390.5" y2="244.5" stroke="#858585" stroke-width="1"/>
<path d="M317.0 194.5v1.8M317.0 244.5v-1.8M327.5 194.5v1.8M327.5 244.5v-1.8M338.0 194.5v1.8M338.0 244.5v-1.8M348.5 194.5v1.8M348.5 244.5v-1.8M359.0 194.5v1.8M359.0 244.5v-1.8M369.5 194.5v1.8M369.5 244.5v-1.8M380.0 194.5v1.8M380.0 244.5v-1.8M306.5 200.0h1.8M390.5 200.0h-1.8M306.5 209.3h1.8M390.5 209.3h-1.8M306.5 218.6h1.8M390.5 218.6h-1.8M306.5 227.9h1.8M390.5 227.9h-1.8M306.5 237.2h1.8M390.5 237.2h-1.8" stroke="#707070" stroke-width="0.8" fill="none"/>
<line x1="306.0" y1="244.5" x2="391.0" y2="244.5" stroke="#3a3a3a" stroke-width="1"/>
<line x1="306.0" y1="290.5" x2="391.0" y2="290.5" stroke="#3a3a3a" stroke-width="1"/>
<line x1="306.5" y1="244.5" x2="306.5" y2="290.5" stroke="#858585" stroke-width="1"/>
<line x1="390.5" y1="244.5" x2="390.5" y2="290.5" stroke="#858585" stroke-width="1"/>
<path d="M317.0 244.5v1.8M317.0 290.5v-1.8M327.5 244.5v1.8M327.5 290.5v-1.8M338.0 244.5v1.8M338.0 290.5v-1.8M348.5 244.5v1.8M348.5 290.5v-1.8M359.0 244.5v1.8M359.0 290.5v-1.8M369.5 244.5v1.8M369.5 290.5v-1.8M380.0 244.5v1.8M380.0 290.5v-1.8M306.5 245.6h1.8M390.5 245.6h-1.8M306.5 252.6h1.8M390.5 252.6h-1.8M306.5 259.6h1.8M390.5 259.6h-1.8M306.5 266.5h1.8M390.5 266.5h-1.8M306.5 273.5h1.8M390.5 273.5h-1.8M306.5 280.5h1.8M390.5 280.5h-1.8M306.5 287.5h1.8M390.5 287.5h-1.8" stroke="#707070" stroke-width="0.8" fill="none"/>
<line x1="306.0" y1="290.5" x2="391.0" y2="290.5" stroke="#3a3a3a" stroke-width="1"/>
<line x1="306.0" y1="341.5" x2="391.0" y2="341.5" stroke="#3a3a3a" stroke-width="1"/>
<line x1="306.5" y1="290.5" x2="306.5" y2="341.5" stroke="#858585" stroke-width="1"/>
<line x1="390.5" y1="290.5" x2="390.5" y2="341.5" stroke="#858585" stroke-width="1"/>
<path d="M317.0 290.5v1.8M317.0 341.5v-1.8M327.5 290.5v1.8M327.5 341.5v-1.8M338.0 290.5v1.8M338.0 341.5v-1.8M348.5 290.5v1.8M348.5 341.5v-1.8M359.0 290.5v1.8M359.0 341.5v-1.8M369.5 290.5v1.8M369.5 341.5v-1.8M380.0 290.5v1.8M380.0 341.5v-1.8M306.5 291.5h1.8M390.5 291.5h-1.8M306.5 299.3h1.8M390.5 299.3h-1.8M306.5 307.1h1.8M390.5 307.1h-1.8M306.5 314.9h1.8M390.5 314.9h-1.8M306.5 322.7h1.8M390.5 322.7h-1.8M306.5 330.4h1.8M390.5 330.4h-1.8M306.5 338.2h1.8M390.5 338.2h-1.8" stroke="#707070" stroke-width="0.8" fill="none"/>
<line x1="306.0" y1="341.5" x2="391.0" y2="341.5" stroke="#3a3a3a" stroke-width="1"/>
<line x1="306.0" y1="389.5" x2="391.0" y2="389.5" stroke="#3a3a3a" stroke-width="1"/>
<line x1="306.5" y1="341.5" x2="306.5" y2="389.5" stroke="#858585" stroke-width="1"/>
<line x1="390.5" y1="341.5" x2="390.5" y2="389.5" stroke="#858585" stroke-width="1"/>
<path d="M317.0 341.5v1.8M317.0 389.5v-1.8M327.5 341.5v1.8M327.5 389.5v-1.8M338.0 341.5v1.8M338.0 389.5v-1.8M348.5 341.5v1.8M348.5 389.5v-1.8M359.0 341.5v1.8M359.0 389.5v-1.8M369.5 341.5v1.8M369.5 389.5v-1.8M380.0 341.5v1.8M380.0 389.5v-1.8M306.5 349.8h1.8M390.5 349.8h-1.8M306.5 357.3h1.8M390.5 357.3h-1.8M306.5 364.7h1.8M390.5 364.7h-1.8M306.5 372.2h1.8M390.5 372.2h-1.8M306.5 379.7h1.8M390.5 379.7h-1.8M306.5 387.2h1.8M390.5 387.2h-1.8" stroke="#707070" stroke-width="0.8" fill="none"/>
<line x1="306.0" y1="389.5" x2="391.0" y2="389.5" stroke="#3a3a3a" stroke-width="1"/>
<line x1="306.0" y1="438.5" x2="391.0" y2="438.5" stroke="#3a3a3a" stroke-width="1"/>
<line x1="306.5" y1="389.5" x2="306.5" y2="438.5" stroke="#858585" stroke-width="1"/>
<line x1="390.5" y1="389.5" x2="390.5" y2="438.5" stroke="#858585" stroke-width="1"/>
<path d="M317.0 389.5v1.8M317.0 438.5v-1.8M327.5 389.5v1.8M327.5 438.5v-1.8M338.0 389.5v1.8M338.0 438.5v-1.8M348.5 389.5v1.8M348.5 438.5v-1.8M359.0 389.5v1.8M359.0 438.5v-1.8M369.5 389.5v1.8M369.5 438.5v-1.8M380.0 389.5v1.8M380.0 438.5v-1.8M306.5 391.7h1.8M390.5 391.7h-1.8M306.5 398.9h1.8M390.5 398.9h-1.8M306.5 406.1h1.8M390.5 406.1h-1.8M306.5 413.5h1.8M390.5 413.5h-1.8M306.5 420.7h1.8M390.5 420.7h-1.8M306.5 427.8h1.8M390.5 427.8h-1.8M306.5 435.0h1.8M390.5 435.0h-1.8" stroke="#707070" stroke-width="0.8" fill="none"/>
<line x1="306.0" y1="438.5" x2="391.0" y2="438.5" stroke="#3a3a3a" stroke-width="1"/>
<line x1="306.0" y1="486.5" x2="391.0" y2="486.5" stroke="#3a3a3a" stroke-width="1"/>
<line x1="306.5" y1="438.5" x2="306.5" y2="486.5" stroke="#858585" stroke-width="1"/>
<line x1="390.5" y1="438.5" x2="390.5" y2="486.5" stroke="#858585" stroke-width="1"/>
<path d="M317.0 438.5v1.8M317.0 486.5v-1.8M327.5 438.5v1.8M327.5 486.5v-1.8M338.0 438.5v1.8M338.0 486.5v-1.8M348.5 438.5v1.8M348.5 486.5v-1.8M359.0 438.5v1.8M359.0 486.5v-1.8M369.5 438.5v1.8M369.5 486.5v-1.8M380.0 438.5v1.8M380.0 486.5v-1.8M306.5 440.1h1.8M390.5 440.1h-1.8M306.5 447.4h1.8M390.5 447.4h-1.8M306.5 454.7h1.8M390.5 454.7h-1.8M306.5 462.1h1.8M390.5 462.1h-1.8M306.5 469.4h1.8M390.5 469.4h-1.8M306.5 476.7h1.8M390.5 476.7h-1.8M306.5 484.0h1.8M390.5 484.0h-1.8" stroke="#707070" stroke-width="0.8" fill="none"/>
<line x1="306.0" y1="486.5" x2="391.0" y2="486.5" stroke="#3a3a3a" stroke-width="1"/>
<line x1="306.0" y1="535.5" x2="391.0" y2="535.5" stroke="#3a3a3a" stroke-width="1"/>
<line x1="306.5" y1="486.5" x2="306.5" y2="535.5" stroke="#858585" stroke-width="1"/>
<line x1="390.5" y1="486.5" x2="390.5" y2="535.5" stroke="#858585" stroke-width="1"/>
<path d="M317.0 486.5v1.8M317.0 535.5v-1.8M327.5 486.5v1.8M327.5 535.5v-1.8M338.0 486.5v1.8M338.0 535.5v-1.8M348.5 486.5v1.8M348.5 535.5v-1.8M359.0 486.5v1.8M359.0 535.5v-1.8M369.5 486.5v1.8M369.5 535.5v-1.8M380.0 486.5v1.8M380.0 535.5v-1.8M306.5 487.9h1.8M390.5 487.9h-1.8M306.5 495.3h1.8M390.5 495.3h-1.8M306.5 502.7h1.8M390.5 502.7h-1.8M306.5 510.9h1.8M390.5 510.9h-1.8M306.5 518.3h1.8M390.5 518.3h-1.8M306.5 524.8h1.8M390.5 524.8h-1.8M306.5 532.2h1.8M390.5 532.2h-1.8" stroke="#707070" stroke-width="0.8" fill="none"/>
<line x1="306.0" y1="535.5" x2="391.0" y2="535.5" stroke="#3a3a3a" stroke-width="1"/>
<line x1="306.0" y1="583.5" x2="391.0" y2="583.5" stroke="#3a3a3a" stroke-width="1"/>
<line x1="306.5" y1="535.5" x2="306.5" y2="583.5" stroke="#858585" stroke-width="1"/>
<line x1="390.5" y1="535.5" x2="390.5" y2="583.5" stroke="#858585" stroke-width="1"/>
<path d="M317.0 535.5v1.8M317.0 583.5v-1.8M327.5 535.5v1.8M327.5 583.5v-1.8M338.0 535.5v1.8M338.0 583.5v-1.8M348.5 535.5v1.8M348.5 583.5v-1.8M359.0 535.5v1.8M359.0 583.5v-1.8M369.5 535.5v1.8M369.5 583.5v-1.8M380.0 535.5v1.8M380.0 583.5v-1.8M306.5 537.1h1.8M390.5 537.1h-1.8M306.5 544.3h1.8M390.5 544.3h-1.8M306.5 551.5h1.8M390.5 551.5h-1.8M306.5 559.1h1.8M390.5 559.1h-1.8M306.5 566.3h1.8M390.5 566.3h-1.8M306.5 573.0h1.8M390.5 573.0h-1.8M306.5 580.2h1.8M390.5 580.2h-1.8" stroke="#707070" stroke-width="0.8" fill="none"/>
<line x1="305.0" y1="583.5" x2="391.0" y2="583.5" stroke="#3a3a3a" stroke-width="1"/>
<line x1="305.0" y1="631.5" x2="391.0" y2="631.5" stroke="#3a3a3a" stroke-width="1"/>
<line x1="305.5" y1="583.5" x2="305.5" y2="631.5" stroke="#858585" stroke-width="1"/>
<line x1="390.5" y1="583.5" x2="390.5" y2="631.5" stroke="#858585" stroke-width="1"/>
<path d="M316.1 583.5v1.8M316.1 631.5v-1.8M326.8 583.5v1.8M326.8 631.5v-1.8M337.4 583.5v1.8M337.4 631.5v-1.8M348.0 583.5v1.8M348.0 631.5v-1.8M358.6 583.5v1.8M358.6 631.5v-1.8M369.2 583.5v1.8M369.2 631.5v-1.8M379.9 583.5v1.8M379.9 631.5v-1.8M305.5 585.9h1.8M390.5 585.9h-1.8M305.5 593.0h1.8M390.5 593.0h-1.8M305.5 600.1h1.8M390.5 600.1h-1.8M305.5 607.2h1.8M390.5 607.2h-1.8M305.5 614.3h1.8M390.5 614.3h-1.8M305.5 621.4h1.8M390.5 621.4h-1.8M305.5 628.5h1.8M390.5 628.5h-1.8" stroke="#707070" stroke-width="0.8" fill="none"/>
<text x="303.6" y="111.9" font-size="12.1" fill="#1e1e1e" text-anchor="end">30</text>
<text x="303.6" y="126.3" font-size="12.1" fill="#1e1e1e" text-anchor="end">0</text>
<text x="303.6" y="139.9" font-size="12.1" fill="#1e1e1e" text-anchor="end">-30</text>
<text x="304.8" y="159.1" font-size="12.1" fill="#1e1e1e" text-anchor="end">30</text>
<text x="304.8" y="173.3" font-size="12.1" fill="#1e1e1e" text-anchor="end">0</text>
<text x="304.8" y="187.5" font-size="12.1" fill="#1e1e1e" text-anchor="end">-30</text>
<text x="305.2" y="204.3" font-size="12.1" fill="#1e1e1e" text-anchor="end">30</text>
<text x="305.2" y="222.9" font-size="12.1" fill="#1e1e1e" text-anchor="end">0</text>
<text x="305.2" y="241.5" font-size="12.1" fill="#1e1e1e" text-anchor="end">-30</text>
<text x="304.8" y="256.9" font-size="12.1" fill="#1e1e1e" text-anchor="end">30</text>
<text x="304.8" y="270.8" font-size="12.1" fill="#1e1e1e" text-anchor="end">0</text>
<text x="304.8" y="284.8" font-size="12.1" fill="#1e1e1e" text-anchor="end">-30</text>
<text x="305.7" y="303.6" font-size="12.1" fill="#1e1e1e" text-anchor="end">30</text>
<text x="305.7" y="319.2" font-size="12.1" fill="#1e1e1e" text-anchor="end">0</text>
<text x="305.7" y="334.7" font-size="12.1" fill="#1e1e1e" text-anchor="end">-30</text>
<text x="305.5" y="354.1" font-size="12.1" fill="#1e1e1e" text-anchor="end">30</text>
<text x="305.5" y="369.0" font-size="12.1" fill="#1e1e1e" text-anchor="end">0</text>
<text x="305.5" y="384.0" font-size="12.1" fill="#1e1e1e" text-anchor="end">-30</text>
<text x="306.8" y="403.2" font-size="12.1" fill="#1e1e1e" text-anchor="end">30</text>
<text x="306.8" y="417.8" font-size="12.1" fill="#1e1e1e" text-anchor="end">0</text>
<text x="306.8" y="432.1" font-size="12.1" fill="#1e1e1e" text-anchor="end">-30</text>
<text x="305.2" y="451.7" font-size="12.1" fill="#1e1e1e" text-anchor="end">30</text>
<text x="305.2" y="466.4" font-size="12.1" fill="#1e1e1e" text-anchor="end">0</text>
<text x="305.2" y="481.0" font-size="12.1" fill="#1e1e1e" text-anchor="end">-30</text>
<text x="304.8" y="499.6" font-size="12.1" fill="#1e1e1e" text-anchor="end">30</text>
<text x="304.8" y="515.2" font-size="12.1" fill="#1e1e1e" text-anchor="end">0</text>
<text x="304.8" y="529.1" font-size="12.1" fill="#1e1e1e" text-anchor="end">-30</text>
<text x="305.2" y="548.6" font-size="12.1" fill="#1e1e1e" text-anchor="end">30</text>
<text x="305.2" y="563.4" font-size="12.1" fill="#1e1e1e" text-anchor="end">0</text>
<text x="305.2" y="577.3" font-size="12.1" fill="#1e1e1e" text-anchor="end">-30</text>
<text x="303.4" y="597.3" font-size="12.1" fill="#1e1e1e" text-anchor="end">30</text>
<text x="303.4" y="611.5" font-size="12.1" fill="#1e1e1e" text-anchor="end">0</text>
<text x="303.4" y="625.7" font-size="12.1" fill="#1e1e1e" text-anchor="end">-30</text>
<polyline points="308.6,122.3 312.5,122.0 316.5,120.4 320.5,119.9 326.8,119.9 330.8,114.0 334.0,108.5 337.6,105.6 341.1,107.7 344.6,113.3 348.2,120.4 351.4,124.4 355.4,129.6 359.3,132.8 362.5,135.5 365.7,137.1 368.9,134.7 372.5,130.7 376.0,127.2 379.9,127.2 385.5,127.2 390.0,125.6" fill="none" stroke="#0000e8" stroke-width="2.05" stroke-linejoin="round" stroke-linecap="round"/>
<polyline points="308.6,171.5 312.5,168.5 315.7,168.5 319.7,166.7 323.6,166.7 326.8,165.3 330.3,160.1 334.0,154.5 337.1,151.7 340.8,155.3 344.6,161.7 348.2,168.8 351.4,174.4 355.1,179.4 358.9,182.0 362.5,183.4 365.7,183.4 369.3,180.7 372.8,176.0 376.3,174.4 380.0,174.4 385.5,174.4 390.0,173.6" fill="none" stroke="#0000e8" stroke-width="2.05" stroke-linejoin="round" stroke-linecap="round"/>
<polyline points="309.0,219.0 312.5,219.0 316.5,217.8 320.1,216.2 323.6,217.0 326.8,216.2 330.3,210.6 334.0,201.9 337.6,197.9 341.1,201.9 344.6,209.8 348.2,219.4 351.4,224.1 355.1,231.0 358.6,233.7 362.0,234.4 365.7,234.9 368.9,233.7 372.5,227.3 376.0,224.1 380.0,225.2 385.5,224.9 390.0,223.0" fill="none" stroke="#0000e8" stroke-width="2.05" stroke-linejoin="round" stroke-linecap="round"/>
<polyline points="309.0,267.8 312.5,266.7 316.5,265.9 320.1,264.9 323.3,264.9 326.8,261.9 330.3,256.3 334.0,251.6 337.1,252.7 341.1,257.5 344.6,264.6 348.2,270.5 351.9,274.9 355.4,280.2 358.9,280.8 362.0,281.6 365.7,277.3 369.3,272.5 372.8,270.6 376.8,271.0 382.4,271.0 390.0,270.5" fill="none" stroke="#0000e8" stroke-width="2.05" stroke-linejoin="round" stroke-linecap="round"/>
<polyline points="309.5,315.9 313.9,314.9 317.9,313.9 321.8,313.3 327.4,313.3 330.8,307.9 334.8,301.3 338.2,299.3 341.8,301.9 345.4,308.9 348.8,318.5 352.7,321.9 356.7,323.9 360.7,326.8 364.7,327.4 368.7,324.9 372.7,320.9 377.2,317.9 380.6,318.9 385.6,318.5 390.3,317.9" fill="none" stroke="#0000e8" stroke-width="2.05" stroke-linejoin="round" stroke-linecap="round"/>
<polyline points="309.5,365.1 314.9,364.3 320.9,363.1 327.4,363.1 330.8,360.7 334.8,354.7 338.2,350.8 341.8,352.4 345.8,359.7 349.3,368.7 352.7,372.1 357.7,372.1 362.7,371.3 366.7,372.3 369.7,374.1 373.3,371.7 377.2,369.1 383.6,369.1 390.3,367.7" fill="none" stroke="#0000e8" stroke-width="2.05" stroke-linejoin="round" stroke-linecap="round"/>
<polyline points="310.3,414.3 313.9,412.9 317.9,411.5 322.8,411.5 327.4,411.5 330.8,407.9 334.8,401.9 338.2,399.5 341.8,402.3 345.4,407.9 348.8,416.9 352.7,420.5 356.7,420.9 360.7,423.2 365.3,424.8 369.3,420.9 373.3,417.3 377.6,416.5 383.6,416.9 390.3,415.5" fill="none" stroke="#0000e8" stroke-width="2.05" stroke-linejoin="round" stroke-linecap="round"/>
<polyline points="309.5,462.7 313.9,461.1 319.9,460.7 323.4,461.1 327.4,460.3 330.8,455.7 334.2,449.3 337.8,449.3 341.4,451.3 344.8,457.7 348.4,466.1 351.7,468.3 355.7,472.1 359.3,474.7 362.7,476.7 367.7,471.7 372.7,466.7 376.7,465.7 383.6,466.3 390.3,465.3" fill="none" stroke="#0000e8" stroke-width="2.05" stroke-linejoin="round" stroke-linecap="round"/>
<polyline points="308.9,511.3 312.9,510.9 317.9,509.9 322.8,509.3 327.4,509.3 330.8,505.9 334.2,500.9 337.4,498.5 340.8,500.9 344.2,506.9 347.8,513.9 351.3,516.8 354.7,515.5 358.3,516.8 361.7,518.4 365.3,519.2 368.7,516.8 372.7,513.9 376.7,513.9 380.6,514.5 385.6,514.5 390.3,513.3" fill="none" stroke="#0000e8" stroke-width="2.05" stroke-linejoin="round" stroke-linecap="round"/>
<polyline points="308.9,560.7 312.9,559.1 316.9,559.1 319.9,559.7 323.4,560.3 327.4,558.1 330.8,557.7 334.8,555.7 338.2,554.3 341.4,555.7 344.2,559.7 347.8,564.3 351.7,567.7 355.3,566.1 359.3,566.3 363.3,567.1 367.7,566.1 372.7,564.1 376.7,563.3 382.6,563.3 390.3,561.7" fill="none" stroke="#0000e8" stroke-width="2.05" stroke-linejoin="round" stroke-linecap="round"/>
<polyline points="308.9,607.6 313.4,607.6 317.5,606.8 321.1,605.8 325.6,605.8 327.6,606.8 330.6,602.2 333.7,599.1 337.7,597.1 341.8,600.7 345.9,605.2 348.9,608.8 351.9,612.3 355.0,611.3 358.4,608.8 362.1,610.9 366.1,612.3 369.8,610.9 373.2,608.8 377.9,607.8 382.4,608.6 386.4,608.6 390.0,607.6" fill="none" stroke="#0000e8" stroke-width="2.05" stroke-linejoin="round" stroke-linecap="round"/>
<line x1="412.0" y1="100.5" x2="495.0" y2="100.5" stroke="#3a3a3a" stroke-width="1"/>
<line x1="412.0" y1="148.5" x2="495.0" y2="148.5" stroke="#3a3a3a" stroke-width="1"/>
<line x1="412.5" y1="100.5" x2="412.5" y2="148.5" stroke="#858585" stroke-width="1"/>
<line x1="494.5" y1="100.5" x2="494.5" y2="148.5" stroke="#858585" stroke-width="1"/>
<path d="M422.8 100.5v1.8M422.8 148.5v-1.8M433.0 100.5v1.8M433.0 148.5v-1.8M443.2 100.5v1.8M443.2 148.5v-1.8M453.5 100.5v1.8M453.5 148.5v-1.8M463.8 100.5v1.8M463.8 148.5v-1.8M474.0 100.5v1.8M474.0 148.5v-1.8M484.2 100.5v1.8M484.2 148.5v-1.8M412.5 102.6h1.8M494.5 102.6h-1.8M412.5 109.8h1.8M494.5 109.8h-1.8M412.5 117.0h1.8M494.5 117.0h-1.8M412.5 124.6h1.8M494.5 124.6h-1.8M412.5 131.8h1.8M494.5 131.8h-1.8M412.5 138.5h1.8M494.5 138.5h-1.8M412.5 145.7h1.8M494.5 145.7h-1.8" stroke="#707070" stroke-width="0.8" fill="none"/>
<line x1="412.0" y1="148.5" x2="495.0" y2="148.5" stroke="#3a3a3a" stroke-width="1"/>
<line x1="412.0" y1="195.5" x2="495.0" y2="195.5" stroke="#3a3a3a" stroke-width="1"/>
<line x1="412.5" y1="148.5" x2="412.5" y2="195.5" stroke="#858585" stroke-width="1"/>
<line x1="494.5" y1="148.5" x2="494.5" y2="195.5" stroke="#858585" stroke-width="1"/>
<path d="M422.8 148.5v1.8M422.8 195.5v-1.8M433.0 148.5v1.8M433.0 195.5v-1.8M443.2 148.5v1.8M443.2 195.5v-1.8M453.5 148.5v1.8M453.5 195.5v-1.8M463.8 148.5v1.8M463.8 195.5v-1.8M474.0 148.5v1.8M474.0 195.5v-1.8M484.2 148.5v1.8M484.2 195.5v-1.8M412.5 150.1h1.8M494.5 150.1h-1.8M412.5 157.2h1.8M494.5 157.2h-1.8M412.5 164.3h1.8M494.5 164.3h-1.8M412.5 171.6h1.8M494.5 171.6h-1.8M412.5 178.7h1.8M494.5 178.7h-1.8M412.5 185.5h1.8M494.5 185.5h-1.8M412.5 192.6h1.8M494.5 192.6h-1.8" stroke="#707070" stroke-width="0.8" fill="none"/>
<line x1="412.0" y1="195.5" x2="495.0" y2="195.5" stroke="#3a3a3a" stroke-width="1"/>
<line x1="412.0" y1="244.5" x2="495.0" y2="244.5" stroke="#3a3a3a" stroke-width="1"/>
<line x1="412.5" y1="195.5" x2="412.5" y2="244.5" stroke="#858585" stroke-width="1"/>
<line x1="494.5" y1="195.5" x2="494.5" y2="244.5" stroke="#858585" stroke-width="1"/>
<path d="M422.8 195.5v1.8M422.8 244.5v-1.8M433.0 195.5v1.8M433.0 244.5v-1.8M443.2 195.5v1.8M443.2 244.5v-1.8M453.5 195.5v1.8M453.5 244.5v-1.8M463.8 195.5v1.8M463.8 244.5v-1.8M474.0 195.5v1.8M474.0 244.5v-1.8M484.2 195.5v1.8M484.2 244.5v-1.8M412.5 198.2h1.8M494.5 198.2h-1.8M412.5 205.4h1.8M494.5 205.4h-1.8M412.5 212.7h1.8M494.5 212.7h-1.8M412.5 220.0h1.8M494.5 220.0h-1.8M412.5 227.2h1.8M494.5 227.2h-1.8M412.5 234.4h1.8M494.5 234.4h-1.8M412.5 241.7h1.8M494.5 241.7h-1.8" stroke="#707070" stroke-width="0.8" fill="none"/>
<line x1="412.0" y1="244.5" x2="495.0" y2="244.5" stroke="#3a3a3a" stroke-width="1"/>
<line x1="412.0" y1="292.5" x2="495.0" y2="292.5" stroke="#3a3a3a" stroke-width="1"/>
<line x1="412.5" y1="244.5" x2="412.5" y2="292.5" stroke="#858585" stroke-width="1"/>
<line x1="494.5" y1="244.5" x2="494.5" y2="292.5" stroke="#858585" stroke-width="1"/>
<path d="M422.8 244.5v1.8M422.8 292.5v-1.8M433.0 244.5v1.8M433.0 292.5v-1.8M443.2 244.5v1.8M443.2 292.5v-1.8M453.5 244.5v1.8M453.5 292.5v-1.8M463.8 244.5v1.8M463.8 292.5v-1.8M474.0 244.5v1.8M474.0 292.5v-1.8M484.2 244.5v1.8M484.2 292.5v-1.8M412.5 246.4h1.8M494.5 246.4h-1.8M412.5 253.6h1.8M494.5 253.6h-1.8M412.5 260.8h1.8M494.5 260.8h-1.8M412.5 268.4h1.8M494.5 268.4h-1.8M412.5 275.6h1.8M494.5 275.6h-1.8M412.5 282.4h1.8M494.5 282.4h-1.8M412.5 289.6h1.8M494.5 289.6h-1.8" stroke="#707070" stroke-width="0.8" fill="none"/>
<line x1="412.0" y1="292.5" x2="495.0" y2="292.5" stroke="#3a3a3a" stroke-width="1"/>
<line x1="412.0" y1="342.5" x2="495.0" y2="342.5" stroke="#3a3a3a" stroke-width="1"/>
<line x1="412.5" y1="292.5" x2="412.5" y2="342.5" stroke="#858585" stroke-width="1"/>
<line x1="494.5" y1="292.5" x2="494.5" y2="342.5" stroke="#858585" stroke-width="1"/>
<path d="M422.8 292.5v1.8M422.8 342.5v-1.8M433.0 292.5v1.8M433.0 342.5v-1.8M443.2 292.5v1.8M443.2 342.5v-1.8M453.5 292.5v1.8M453.5 342.5v-1.8M463.8 292.5v1.8M463.8 342.5v-1.8M474.0 292.5v1.8M474.0 342.5v-1.8M484.2 292.5v1.8M484.2 342.5v-1.8M412.5 295.0h1.8M494.5 295.0h-1.8M412.5 302.4h1.8M494.5 302.4h-1.8M412.5 309.8h1.8M494.5 309.8h-1.8M412.5 317.2h1.8M494.5 317.2h-1.8M412.5 324.6h1.8M494.5 324.6h-1.8M412.5 331.8h1.8M494.5 331.8h-1.8M412.5 339.2h1.8M494.5 339.2h-1.8" stroke="#707070" stroke-width="0.8" fill="none"/>
<line x1="412.0" y1="342.5" x2="495.0" y2="342.5" stroke="#3a3a3a" stroke-width="1"/>
<line x1="412.0" y1="389.5" x2="495.0" y2="389.5" stroke="#3a3a3a" stroke-width="1"/>
<line x1="412.5" y1="342.5" x2="412.5" y2="389.5" stroke="#858585" stroke-width="1"/>
<line x1="494.5" y1="342.5" x2="494.5" y2="389.5" stroke="#858585" stroke-width="1"/>
<path d="M422.8 342.5v1.8M422.8 389.5v-1.8M433.0 342.5v1.8M433.0 389.5v-1.8M443.2 342.5v1.8M443.2 389.5v-1.8M453.5 342.5v1.8M453.5 389.5v-1.8M463.8 342.5v1.8M463.8 389.5v-1.8M474.0 342.5v1.8M474.0 389.5v-1.8M484.2 342.5v1.8M484.2 389.5v-1.8M412.5 344.1h1.8M494.5 344.1h-1.8M412.5 351.2h1.8M494.5 351.2h-1.8M412.5 358.2h1.8M494.5 358.2h-1.8M412.5 365.4h1.8M494.5 365.4h-1.8M412.5 372.4h1.8M494.5 372.4h-1.8M412.5 379.4h1.8M494.5 379.4h-1.8M412.5 386.4h1.8M494.5 386.4h-1.8" stroke="#707070" stroke-width="0.8" fill="none"/>
<line x1="412.0" y1="389.5" x2="495.0" y2="389.5" stroke="#3a3a3a" stroke-width="1"/>
<line x1="412.0" y1="439.5" x2="495.0" y2="439.5" stroke="#3a3a3a" stroke-width="1"/>
<line x1="412.5" y1="389.5" x2="412.5" y2="439.5" stroke="#858585" stroke-width="1"/>
<line x1="494.5" y1="389.5" x2="494.5" y2="439.5" stroke="#858585" stroke-width="1"/>
<path d="M422.8 389.5v1.8M422.8 439.5v-1.8M433.0 389.5v1.8M433.0 439.5v-1.8M443.2 389.5v1.8M443.2 439.5v-1.8M453.5 389.5v1.8M453.5 439.5v-1.8M463.8 389.5v1.8M463.8 439.5v-1.8M474.0 389.5v1.8M474.0 439.5v-1.8M484.2 389.5v1.8M484.2 439.5v-1.8M412.5 391.4h1.8M494.5 391.4h-1.8M412.5 398.8h1.8M494.5 398.8h-1.8M412.5 406.2h1.8M494.5 406.2h-1.8M412.5 413.6h1.8M494.5 413.6h-1.8M412.5 421.0h1.8M494.5 421.0h-1.8M412.5 428.4h1.8M494.5 428.4h-1.8M412.5 435.8h1.8M494.5 435.8h-1.8" stroke="#707070" stroke-width="0.8" fill="none"/>
<line x1="411.0" y1="439.5" x2="495.0" y2="439.5" stroke="#3a3a3a" stroke-width="1"/>
<line x1="411.0" y1="492.5" x2="495.0" y2="492.5" stroke="#3a3a3a" stroke-width="1"/>
<line x1="411.5" y1="439.5" x2="411.5" y2="492.5" stroke="#858585" stroke-width="1"/>
<line x1="494.5" y1="439.5" x2="494.5" y2="492.5" stroke="#858585" stroke-width="1"/>
<path d="M421.9 439.5v1.8M421.9 492.5v-1.8M432.2 439.5v1.8M432.2 492.5v-1.8M442.6 439.5v1.8M442.6 492.5v-1.8M453.0 439.5v1.8M453.0 492.5v-1.8M463.4 439.5v1.8M463.4 492.5v-1.8M473.8 439.5v1.8M473.8 492.5v-1.8M484.1 439.5v1.8M484.1 492.5v-1.8M411.5 442.8h1.8M494.5 442.8h-1.8M411.5 450.4h1.8M494.5 450.4h-1.8M411.5 458.0h1.8M494.5 458.0h-1.8M411.5 465.6h1.8M494.5 465.6h-1.8M411.5 473.2h1.8M494.5 473.2h-1.8M411.5 481.0h1.8M494.5 481.0h-1.8M411.5 488.6h1.8M494.5 488.6h-1.8" stroke="#707070" stroke-width="0.8" fill="none"/>
<line x1="411.0" y1="492.5" x2="495.0" y2="492.5" stroke="#3a3a3a" stroke-width="1"/>
<line x1="411.0" y1="538.5" x2="495.0" y2="538.5" stroke="#3a3a3a" stroke-width="1"/>
<line x1="411.5" y1="492.5" x2="411.5" y2="538.5" stroke="#858585" stroke-width="1"/>
<line x1="494.5" y1="492.5" x2="494.5" y2="538.5" stroke="#858585" stroke-width="1"/>
<path d="M421.9 492.5v1.8M421.9 538.5v-1.8M432.2 492.5v1.8M432.2 538.5v-1.8M442.6 492.5v1.8M442.6 538.5v-1.8M453.0 492.5v1.8M453.0 538.5v-1.8M463.4 492.5v1.8M463.4 538.5v-1.8M473.8 492.5v1.8M473.8 538.5v-1.8M484.1 492.5v1.8M484.1 538.5v-1.8M411.5 494.6h1.8M494.5 494.6h-1.8M411.5 501.4h1.8M494.5 501.4h-1.8M411.5 508.2h1.8M494.5 508.2h-1.8M411.5 515.5h1.8M494.5 515.5h-1.8M411.5 522.3h1.8M494.5 522.3h-1.8M411.5 528.7h1.8M494.5 528.7h-1.8M411.5 535.5h1.8M494.5 535.5h-1.8" stroke="#707070" stroke-width="0.8" fill="none"/>
<line x1="411.0" y1="538.5" x2="495.0" y2="538.5" stroke="#3a3a3a" stroke-width="1"/>
<line x1="411.0" y1="584.5" x2="495.0" y2="584.5" stroke="#3a3a3a" stroke-width="1"/>
<line x1="411.5" y1="538.5" x2="411.5" y2="584.5" stroke="#858585" stroke-width="1"/>
<line x1="494.5" y1="538.5" x2="494.5" y2="584.5" stroke="#858585" stroke-width="1"/>
<path d="M421.9 538.5v1.8M421.9 584.5v-1.8M432.2 538.5v1.8M432.2 584.5v-1.8M442.6 538.5v1.8M442.6 584.5v-1.8M453.0 538.5v1.8M453.0 584.5v-1.8M463.4 538.5v1.8M463.4 584.5v-1.8M473.8 538.5v1.8M473.8 584.5v-1.8M484.1 538.5v1.8M484.1 584.5v-1.8M411.5 540.2h1.8M494.5 540.2h-1.8M411.5 547.1h1.8M494.5 547.1h-1.8M411.5 554.0h1.8M494.5 554.0h-1.8M411.5 561.3h1.8M494.5 561.3h-1.8M411.5 568.2h1.8M494.5 568.2h-1.8M411.5 574.8h1.8M494.5 574.8h-1.8M411.5 581.7h1.8M494.5 581.7h-1.8" stroke="#707070" stroke-width="0.8" fill="none"/>
<line x1="411.0" y1="584.5" x2="495.0" y2="584.5" stroke="#3a3a3a" stroke-width="1"/>
<line x1="411.0" y1="631.5" x2="495.0" y2="631.5" stroke="#3a3a3a" stroke-width="1"/>
<line x1="411.5" y1="584.5" x2="411.5" y2="631.5" stroke="#858585" stroke-width="1"/>
<line x1="494.5" y1="584.5" x2="494.5" y2="631.5" stroke="#858585" stroke-width="1"/>
<path d="M421.9 584.5v1.8M421.9 631.5v-1.8M432.2 584.5v1.8M432.2 631.5v-1.8M442.6 584.5v1.8M442.6 631.5v-1.8M453.0 584.5v1.8M453.0 631.5v-1.8M463.4 584.5v1.8M463.4 631.5v-1.8M473.8 584.5v1.8M473.8 631.5v-1.8M484.1 584.5v1.8M484.1 631.5v-1.8M411.5 586.3h1.8M494.5 586.3h-1.8M411.5 593.3h1.8M494.5 593.3h-1.8M411.5 600.3h1.8M494.5 600.3h-1.8M411.5 607.3h1.8M494.5 607.3h-1.8M411.5 614.3h1.8M494.5 614.3h-1.8M411.5 621.3h1.8M494.5 621.3h-1.8M411.5 628.3h1.8M494.5 628.3h-1.8" stroke="#707070" stroke-width="0.8" fill="none"/>
<text x="409.8" y="114.1" font-size="12.1" fill="#1e1e1e" text-anchor="end">30</text>
<text x="409.8" y="128.9" font-size="12.1" fill="#1e1e1e" text-anchor="end">0</text>
<text x="409.8" y="142.8" font-size="12.1" fill="#1e1e1e" text-anchor="end">-30</text>
<text x="411.4" y="161.5" font-size="12.1" fill="#1e1e1e" text-anchor="end">30</text>
<text x="411.4" y="175.9" font-size="12.1" fill="#1e1e1e" text-anchor="end">0</text>
<text x="411.4" y="189.8" font-size="12.1" fill="#1e1e1e" text-anchor="end">-30</text>
<text x="411.0" y="209.7" font-size="12.1" fill="#1e1e1e" text-anchor="end">30</text>
<text x="411.0" y="224.3" font-size="12.1" fill="#1e1e1e" text-anchor="end">0</text>
<text x="411.0" y="238.7" font-size="12.1" fill="#1e1e1e" text-anchor="end">-30</text>
<text x="411.4" y="257.9" font-size="12.1" fill="#1e1e1e" text-anchor="end">30</text>
<text x="411.4" y="272.7" font-size="12.1" fill="#1e1e1e" text-anchor="end">0</text>
<text x="411.4" y="286.7" font-size="12.1" fill="#1e1e1e" text-anchor="end">-30</text>
<text x="411.4" y="306.7" font-size="12.1" fill="#1e1e1e" text-anchor="end">30</text>
<text x="411.4" y="321.5" font-size="12.1" fill="#1e1e1e" text-anchor="end">0</text>
<text x="411.4" y="336.1" font-size="12.1" fill="#1e1e1e" text-anchor="end">-30</text>
<text x="411.4" y="355.5" font-size="12.1" fill="#1e1e1e" text-anchor="end">30</text>
<text x="411.4" y="369.7" font-size="12.1" fill="#1e1e1e" text-anchor="end">0</text>
<text x="411.4" y="383.7" font-size="12.1" fill="#1e1e1e" text-anchor="end">-30</text>
<text x="411.0" y="403.1" font-size="12.1" fill="#1e1e1e" text-anchor="end">30</text>
<text x="411.0" y="417.9" font-size="12.1" fill="#1e1e1e" text-anchor="end">0</text>
<text x="411.0" y="432.7" font-size="12.1" fill="#1e1e1e" text-anchor="end">-30</text>
<text x="410.5" y="454.7" font-size="12.1" fill="#1e1e1e" text-anchor="end">30</text>
<text x="410.5" y="469.9" font-size="12.1" fill="#1e1e1e" text-anchor="end">0</text>
<text x="410.5" y="485.3" font-size="12.1" fill="#1e1e1e" text-anchor="end">-30</text>
<text x="410.5" y="505.7" font-size="12.1" fill="#1e1e1e" text-anchor="end">30</text>
<text x="410.5" y="519.8" font-size="12.1" fill="#1e1e1e" text-anchor="end">0</text>
<text x="410.5" y="533.0" font-size="12.1" fill="#1e1e1e" text-anchor="end">-30</text>
<text x="410.1" y="551.4" font-size="12.1" fill="#1e1e1e" text-anchor="end">30</text>
<text x="410.1" y="565.6" font-size="12.1" fill="#1e1e1e" text-anchor="end">0</text>
<text x="410.1" y="579.1" font-size="12.1" fill="#1e1e1e" text-anchor="end">-30</text>
<text x="408.3" y="597.6" font-size="12.1" fill="#1e1e1e" text-anchor="end">30</text>
<text x="408.3" y="611.6" font-size="12.1" fill="#1e1e1e" text-anchor="end">0</text>
<text x="408.3" y="625.6" font-size="12.1" fill="#1e1e1e" text-anchor="end">-30</text>
<polyline points="415.7,125.0 419.6,124.2 423.2,123.6 426.5,123.0 429.5,124.2 433.0,123.6 436.4,120.7 439.8,113.8 443.3,109.2 446.9,109.8 450.2,114.8 453.2,120.7 456.7,128.2 460.1,134.5 463.7,140.0 467.0,140.8 470.6,139.4 474.5,136.1 478.5,132.1 482.4,129.0 485.8,128.2 487.8,129.0 490.7,127.6 494.3,126.2" fill="none" stroke="#0000e8" stroke-width="2.05" stroke-linejoin="round" stroke-linecap="round"/>
<polyline points="415.7,172.0 420.6,172.0 425.5,172.0 432.4,172.0 435.8,167.7 439.8,165.1 443.3,158.2 446.9,158.6 450.2,165.1 453.2,175.0 456.7,181.9 460.1,186.9 463.7,188.2 466.6,190.4 470.0,180.5 473.3,183.5 476.5,179.5 480.4,176.4 484.8,175.6 488.7,174.4 494.3,173.6" fill="none" stroke="#0000e8" stroke-width="2.05" stroke-linejoin="round" stroke-linecap="round"/>
<polyline points="415.3,220.6 419.6,219.6 423.6,218.6 427.5,219.6 431.1,219.6 435.0,216.1 438.4,208.8 441.7,204.2 445.3,205.4 448.2,209.8 451.2,216.7 454.2,225.6 457.1,231.9 460.7,236.4 464.0,236.4 469.0,234.4 472.9,231.5 476.9,227.5 480.4,224.6 484.8,224.0 489.7,223.0 493.7,222.0" fill="none" stroke="#0000e8" stroke-width="2.05" stroke-linejoin="round" stroke-linecap="round"/>
<polyline points="415.3,269.4 419.2,268.0 423.2,267.0 426.5,267.4 429.5,269.0 433.0,264.7 436.4,257.2 439.8,252.2 443.3,255.2 446.9,262.1 450.2,270.0 453.2,275.3 456.7,277.9 460.1,281.3 463.5,284.8 467.0,284.4 470.6,280.5 474.5,275.3 478.5,273.0 482.4,272.0 486.8,271.0 490.3,270.4 493.7,269.4" fill="none" stroke="#0000e8" stroke-width="2.05" stroke-linejoin="round" stroke-linecap="round"/>
<polyline points="415.7,318.2 419.6,317.0 423.6,316.0 426.5,316.2 429.9,317.2 433.4,316.0 437.0,310.7 439.8,304.2 443.3,301.8 446.9,304.8 450.2,313.6 453.2,321.5 456.7,329.4 460.1,331.4 463.5,332.8 467.0,333.8 470.6,330.0 473.9,325.5 476.9,323.5 480.4,321.1 484.8,321.1 488.7,320.6 493.7,319.2" fill="none" stroke="#0000e8" stroke-width="2.05" stroke-linejoin="round" stroke-linecap="round"/>
<polyline points="415.7,366.0 419.6,365.0 423.6,364.4 426.5,365.0 429.5,365.6 433.0,364.0 436.4,363.0 439.8,357.1 443.3,353.7 446.3,354.1 449.6,361.0 453.2,368.9 456.7,376.9 460.1,381.8 463.5,379.8 467.0,376.9 470.6,375.9 474.5,372.9 478.5,369.9 482.4,369.0 486.8,368.4 490.7,368.4 493.7,367.6" fill="none" stroke="#0000e8" stroke-width="2.05" stroke-linejoin="round" stroke-linecap="round"/>
<polyline points="414.7,414.6 418.6,413.6 422.6,412.6 425.9,412.6 429.1,414.0 431.9,413.6 435.4,409.6 439.0,402.1 442.3,399.4 445.7,402.1 449.2,411.6 452.8,420.5 456.1,426.4 460.1,429.0 464.0,430.0 466.6,430.4 470.6,426.4 474.9,421.9 478.9,419.1 482.8,417.5 486.8,417.5 490.7,416.9 493.7,416.0" fill="none" stroke="#0000e8" stroke-width="2.05" stroke-linejoin="round" stroke-linecap="round"/>
<polyline points="414.7,466.5 418.6,465.5 422.6,464.5 425.9,464.5 429.1,465.9 431.9,464.9 435.4,460.0 439.0,451.1 441.7,448.7 445.3,453.1 448.8,461.0 452.8,470.9 456.7,476.8 460.7,479.8 465.4,483.5 469.0,479.8 474.9,472.8 479.9,469.9 484.8,469.3 489.7,468.9 493.7,467.9" fill="none" stroke="#0000e8" stroke-width="2.05" stroke-linejoin="round" stroke-linecap="round"/>
<polyline points="414.7,515.9 418.6,515.5 422.0,514.1 425.5,514.9 429.1,515.5 432.4,514.5 435.8,511.5 439.0,505.6 442.3,502.7 445.7,507.0 449.2,513.5 452.8,519.4 456.1,522.8 459.1,523.4 462.7,526.4 466.0,528.7 469.4,524.0 472.9,521.8 476.5,520.0 479.9,517.9 483.8,517.9 487.8,517.1 493.7,516.1" fill="none" stroke="#0000e8" stroke-width="2.05" stroke-linejoin="round" stroke-linecap="round"/>
<polyline points="414.7,561.9 418.6,560.9 422.6,560.9 426.5,561.9 429.9,561.5 433.4,559.9 437.0,558.0 439.8,556.0 442.3,553.0 445.7,556.4 448.8,559.5 452.2,567.8 456.1,571.8 460.1,573.8 464.0,573.4 468.0,571.8 472.0,569.4 475.9,566.9 479.9,564.9 483.8,563.9 487.8,563.9 493.7,562.5" fill="none" stroke="#0000e8" stroke-width="2.05" stroke-linejoin="round" stroke-linecap="round"/>
<polyline points="414.2,607.8 419.2,606.9 424.1,605.6 428.4,606.9 432.1,606.3 435.3,604.8 438.6,600.9 442.2,599.2 445.7,602.6 449.3,607.8 453.2,613.4 456.8,617.0 461.2,618.5 466.5,619.6 470.4,616.4 475.1,613.4 480.9,610.6 487.0,609.9 494.1,608.8" fill="none" stroke="#0000e8" stroke-width="2.05" stroke-linejoin="round" stroke-linecap="round"/>
<text x="77.4" y="95.0" font-size="12.1" fill="#1e1e1e" text-anchor="middle">0</text>
<text x="98.0" y="95.0" font-size="12.1" fill="#1e1e1e" text-anchor="middle">6</text>
<text x="118.5" y="95.0" font-size="12.1" fill="#1e1e1e" text-anchor="middle">12</text>
<text x="139.1" y="95.0" font-size="12.1" fill="#1e1e1e" text-anchor="middle">18</text>
<text x="159.6" y="95.0" font-size="12.1" fill="#1e1e1e" text-anchor="middle">24</text>
<text x="187.5" y="95.0" font-size="12.1" fill="#1e1e1e" text-anchor="middle">0</text>
<text x="208.2" y="95.0" font-size="12.1" fill="#1e1e1e" text-anchor="middle">6</text>
<text x="229.0" y="95.0" font-size="12.1" fill="#1e1e1e" text-anchor="middle">12</text>
<text x="249.8" y="95.0" font-size="12.1" fill="#1e1e1e" text-anchor="middle">18</text>
<text x="270.5" y="95.0" font-size="12.1" fill="#1e1e1e" text-anchor="middle">24</text>
<text x="306.2" y="92.9" font-size="12.1" fill="#1e1e1e" text-anchor="middle">0</text>
<text x="327.1" y="92.9" font-size="12.1" fill="#1e1e1e" text-anchor="middle">6</text>
<text x="348.1" y="92.9" font-size="12.1" fill="#1e1e1e" text-anchor="middle">12</text>
<text x="369.1" y="92.9" font-size="12.1" fill="#1e1e1e" text-anchor="middle">18</text>
<text x="390.0" y="92.9" font-size="12.1" fill="#1e1e1e" text-anchor="middle">24</text>
<text x="412.8" y="94.7" font-size="12.1" fill="#1e1e1e" text-anchor="middle">0</text>
<text x="433.1" y="94.7" font-size="12.1" fill="#1e1e1e" text-anchor="middle">6</text>
<text x="453.5" y="94.7" font-size="12.1" fill="#1e1e1e" text-anchor="middle">12</text>
<text x="473.9" y="94.7" font-size="12.1" fill="#1e1e1e" text-anchor="middle">18</text>
<text x="494.2" y="94.7" font-size="12.1" fill="#1e1e1e" text-anchor="middle">24</text>
<text x="77.4" y="643.2" font-size="12.1" fill="#1e1e1e" text-anchor="middle">0</text>
<text x="98.0" y="643.2" font-size="12.1" fill="#1e1e1e" text-anchor="middle">6</text>
<text x="118.5" y="643.2" font-size="12.1" fill="#1e1e1e" text-anchor="middle">12</text>
<text x="139.1" y="643.2" font-size="12.1" fill="#1e1e1e" text-anchor="middle">18</text>
<text x="159.6" y="643.2" font-size="12.1" fill="#1e1e1e" text-anchor="middle">24</text>
<text x="187.5" y="642.6" font-size="12.1" fill="#1e1e1e" text-anchor="middle">0</text>
<text x="208.2" y="642.6" font-size="12.1" fill="#1e1e1e" text-anchor="middle">6</text>
<text x="229.0" y="642.6" font-size="12.1" fill="#1e1e1e" text-anchor="middle">12</text>
<text x="249.8" y="642.6" font-size="12.1" fill="#1e1e1e" text-anchor="middle">18</text>
<text x="270.5" y="642.6" font-size="12.1" fill="#1e1e1e" text-anchor="middle">24</text>
<text x="306.2" y="643.9" font-size="12.1" fill="#1e1e1e" text-anchor="middle">0</text>
<text x="327.1" y="643.9" font-size="12.1" fill="#1e1e1e" text-anchor="middle">6</text>
<text x="348.1" y="643.9" font-size="12.1" fill="#1e1e1e" text-anchor="middle">12</text>
<text x="369.1" y="643.9" font-size="12.1" fill="#1e1e1e" text-anchor="middle">18</text>
<text x="390.0" y="643.9" font-size="12.1" fill="#1e1e1e" text-anchor="middle">24</text>
<text x="411.2" y="644.3" font-size="12.1" fill="#1e1e1e" text-anchor="middle">0</text>
<text x="432.0" y="644.3" font-size="12.1" fill="#1e1e1e" text-anchor="middle">6</text>
<text x="452.8" y="644.3" font-size="12.1" fill="#1e1e1e" text-anchor="middle">12</text>
<text x="473.5" y="644.3" font-size="12.1" fill="#1e1e1e" text-anchor="middle">18</text>
<text x="494.3" y="644.3" font-size="12.1" fill="#1e1e1e" text-anchor="middle">24</text>
<line x1="77.0" y1="649.5" x2="160.0" y2="649.5" stroke="#3a3a3a" stroke-width="1"/>
<line x1="77.0" y1="696.5" x2="160.0" y2="696.5" stroke="#3a3a3a" stroke-width="1"/>
<line x1="77.5" y1="649.5" x2="77.5" y2="696.5" stroke="#858585" stroke-width="1"/>
<line x1="159.5" y1="649.5" x2="159.5" y2="696.5" stroke="#858585" stroke-width="1"/>
<path d="M87.8 649.5v1.8M87.8 696.5v-1.8M98.0 649.5v1.8M98.0 696.5v-1.8M108.2 649.5v1.8M108.2 696.5v-1.8M118.5 649.5v1.8M118.5 696.5v-1.8M128.8 649.5v1.8M128.8 696.5v-1.8M139.0 649.5v1.8M139.0 696.5v-1.8M149.2 649.5v1.8M149.2 696.5v-1.8M77.5 669.3h1.8M159.5 669.3h-1.8M77.5 689.5h1.8M159.5 689.5h-1.8" stroke="#707070" stroke-width="0.8" fill="none"/>
<text x="74.4" y="653.0" font-size="12.1" fill="#1e1e1e" text-anchor="end">60</text>
<text x="74.4" y="673.6" font-size="12.1" fill="#1e1e1e" text-anchor="end">30</text>
<text x="74.4" y="693.8" font-size="12.1" fill="#1e1e1e" text-anchor="end">0</text>
<text x="77.7" y="709.5" font-size="12.1" fill="#1e1e1e" text-anchor="middle">0</text>
<text x="98.2" y="709.5" font-size="12.1" fill="#1e1e1e" text-anchor="middle">6</text>
<text x="118.8" y="709.5" font-size="12.1" fill="#1e1e1e" text-anchor="middle">12</text>
<text x="139.3" y="709.5" font-size="12.1" fill="#1e1e1e" text-anchor="middle">18</text>
<text x="159.8" y="709.5" font-size="12.1" fill="#1e1e1e" text-anchor="middle">24</text>
<polyline points="80.8,690.8 84.5,688.9 88.0,691.0 91.9,690.0 95.2,689.1 98.6,690.8 101.9,690.0 105.4,686.6 108.7,679.8 112.2,668.7 115.1,658.4 118.6,655.5 121.9,657.5 125.2,671.0 128.7,685.6 132.2,690.4 135.5,693.3 139.4,695.3 142.7,692.0 146.2,689.1 149.7,690.0 153.0,690.8 159.8,690.8" fill="none" stroke="#0000e8" stroke-width="2.05" stroke-linejoin="round" stroke-linecap="round"/>
<line x1="188.0" y1="649.5" x2="272.0" y2="649.5" stroke="#3a3a3a" stroke-width="1"/>
<line x1="188.0" y1="696.5" x2="272.0" y2="696.5" stroke="#3a3a3a" stroke-width="1"/>
<line x1="188.5" y1="649.5" x2="188.5" y2="696.5" stroke="#858585" stroke-width="1"/>
<line x1="271.5" y1="649.5" x2="271.5" y2="696.5" stroke="#858585" stroke-width="1"/>
<path d="M198.9 649.5v1.8M198.9 696.5v-1.8M209.2 649.5v1.8M209.2 696.5v-1.8M219.6 649.5v1.8M219.6 696.5v-1.8M230.0 649.5v1.8M230.0 696.5v-1.8M240.4 649.5v1.8M240.4 696.5v-1.8M250.8 649.5v1.8M250.8 696.5v-1.8M261.1 649.5v1.8M261.1 696.5v-1.8M188.5 669.3h1.8M271.5 669.3h-1.8M188.5 689.5h1.8M271.5 689.5h-1.8" stroke="#707070" stroke-width="0.8" fill="none"/>
<text x="185.4" y="653.0" font-size="12.1" fill="#1e1e1e" text-anchor="end">60</text>
<text x="185.4" y="673.6" font-size="12.1" fill="#1e1e1e" text-anchor="end">30</text>
<text x="185.4" y="693.8" font-size="12.1" fill="#1e1e1e" text-anchor="end">0</text>
<text x="188.7" y="709.5" font-size="12.1" fill="#1e1e1e" text-anchor="middle">0</text>
<text x="209.3" y="709.5" font-size="12.1" fill="#1e1e1e" text-anchor="middle">6</text>
<text x="230.0" y="709.5" font-size="12.1" fill="#1e1e1e" text-anchor="middle">12</text>
<text x="250.7" y="709.5" font-size="12.1" fill="#1e1e1e" text-anchor="middle">18</text>
<text x="271.3" y="709.5" font-size="12.1" fill="#1e1e1e" text-anchor="middle">24</text>
<polyline points="191.2,690.4 195.1,689.5 199.0,688.5 202.2,689.5 205.7,687.9 209.2,688.9 212.5,690.8 215.8,692.8 219.3,688.5 222.6,680.3 226.7,676.9 230.0,678.8 233.3,685.0 236.8,692.4 240.3,696.6 243.6,695.3 246.9,693.3 250.4,691.4 253.8,687.1 257.1,688.1 260.4,690.0 263.9,690.8 267.4,690.8 271.3,691.8" fill="none" stroke="#0000e8" stroke-width="2.05" stroke-linejoin="round" stroke-linecap="round"/>
<text x="58.63" y="13.6" font-size="16.38" fill="#000" font-weight="bold" textLength="405.68" lengthAdjust="spacingAndGlyphs">Day to day variability in the H and D components</text>
<text x="182.99" y="38.9" font-size="15.3" fill="#000" font-weight="bold" textLength="26.52" lengthAdjust="spacingAndGlyphs">(07</text>
<text x="209.85" y="31.4" font-size="10.35" fill="#000" font-weight="bold" textLength="11.72" lengthAdjust="spacingAndGlyphs">th</text>
<text x="221.36" y="38.9" font-size="15.3" fill="#000" font-weight="bold" textLength="47.9" lengthAdjust="spacingAndGlyphs">and 09</text>
<text x="269.54" y="31.4" font-size="10.35" fill="#000" font-weight="bold" textLength="12.37" lengthAdjust="spacingAndGlyphs">th</text>
<text x="283.56" y="38.9" font-size="15.3" fill="#000" font-weight="bold" textLength="77.34" lengthAdjust="spacingAndGlyphs">July 2004)</text>
<text x="0.44" y="69.8" font-size="15.8" fill="#8a14e6" font-weight="bold" textLength="53.95" lengthAdjust="spacingAndGlyphs">Station</text>
<text x="13.33" y="91.2" font-size="16.23" fill="#8a14e6" font-weight="bold" textLength="36.08" lengthAdjust="spacingAndGlyphs">Cod.</text>
<text x="503.15" y="76.0" font-size="15.94" fill="#8a14e6" font-weight="bold" textLength="63.51" lengthAdjust="spacingAndGlyphs">Geomag</text>
<text x="507.48" y="96.6" font-size="15.6" fill="#8a14e6" font-weight="bold" textLength="32.34" lengthAdjust="spacingAndGlyphs">Lat.(</text>
<circle cx="545" cy="89.1" r="2.35" fill="none" stroke="#8a14e6" stroke-width="1.3"/>
<text x="550.15" y="96.6" font-size="15.6" fill="#8a14e6" font-weight="bold" textLength="16.53" lengthAdjust="spacingAndGlyphs">N)</text>
<text x="74.72" y="71.8" font-size="15.6" fill="#1212d8" font-weight="bold" textLength="31.83" lengthAdjust="spacingAndGlyphs">H-09</text>
<text x="109.35" y="65.8" font-size="12.14" fill="#1212d8" font-weight="bold" textLength="11.5" lengthAdjust="spacingAndGlyphs">th</text>
<text x="122.78" y="71.8" font-size="15.6" fill="#1212d8" font-weight="bold" textLength="41.84" lengthAdjust="spacingAndGlyphs">(AQD)</text>
<text x="187.71" y="76.1" font-size="15.6" fill="#1212d8" font-weight="bold" textLength="31.93" lengthAdjust="spacingAndGlyphs">H-07</text>
<text x="223.26" y="66.0" font-size="11.04" fill="#1212d8" font-weight="bold" textLength="10.96" lengthAdjust="spacingAndGlyphs">th</text>
<text x="235.88" y="76.1" font-size="15.6" fill="#1212d8" font-weight="bold" textLength="41.84" lengthAdjust="spacingAndGlyphs">(NQD)</text>
<text x="302.43" y="73.0" font-size="15.6" fill="#1212d8" font-weight="bold" textLength="31.41" lengthAdjust="spacingAndGlyphs">D-09</text>
<text x="336.76" y="66.0" font-size="11.18" fill="#1212d8" font-weight="bold" textLength="10.64" lengthAdjust="spacingAndGlyphs">th</text>
<text x="350.18" y="73.0" font-size="15.6" fill="#1212d8" font-weight="bold" textLength="41.53" lengthAdjust="spacingAndGlyphs">(AQD)</text>
<text x="405.73" y="73.0" font-size="15.6" fill="#1212d8" font-weight="bold" textLength="31.41" lengthAdjust="spacingAndGlyphs">D-07</text>
<text x="440.36" y="66.0" font-size="11.04" fill="#1212d8" font-weight="bold" textLength="10.53" lengthAdjust="spacingAndGlyphs">th</text>
<text x="454.18" y="73.0" font-size="15.6" fill="#1212d8" font-weight="bold" textLength="41.53" lengthAdjust="spacingAndGlyphs">(NQD)</text>
<text x="14.77" y="128.5" font-size="18.6" fill="#0a7814" font-weight="bold" textLength="37.68" lengthAdjust="spacingAndGlyphs">GUL</text>
<text x="11.99" y="176.5" font-size="18.6" fill="#0a7814" font-weight="bold" textLength="37.21" lengthAdjust="spacingAndGlyphs">SAB</text>
<text x="9.44" y="226.6" font-size="18.6" fill="#0a7814" font-weight="bold" textLength="27.02" lengthAdjust="spacingAndGlyphs">JAI</text>
<text x="12.38" y="274" font-size="18.6" fill="#0a7814" font-weight="bold" textLength="36.38" lengthAdjust="spacingAndGlyphs">SHL</text>
<text x="8.01" y="322.6" font-size="18.6" fill="#0a7814" font-weight="bold" textLength="38.71" lengthAdjust="spacingAndGlyphs">NGP</text>
<text x="11.07" y="370" font-size="18.6" fill="#0a7814" font-weight="bold" textLength="38.4" lengthAdjust="spacingAndGlyphs">ABG</text>
<text x="10.6" y="422.1" font-size="18.6" fill="#0a7814" font-weight="bold" textLength="37.81" lengthAdjust="spacingAndGlyphs">HYB</text>
<text x="8.08" y="469.7" font-size="18.6" fill="#0a7814" font-weight="bold" textLength="36.28" lengthAdjust="spacingAndGlyphs">VSK</text>
<text x="11.68" y="522.1" font-size="18.6" fill="#0a7814" font-weight="bold" textLength="39.66" lengthAdjust="spacingAndGlyphs">PON</text>
<text x="11.99" y="570.3" font-size="18.6" fill="#0a7814" font-weight="bold" textLength="40.06" lengthAdjust="spacingAndGlyphs">KOD</text>
<text x="10.8" y="611" font-size="18.6" fill="#0a7814" font-weight="bold" textLength="28.56" lengthAdjust="spacingAndGlyphs">TIR</text>
<text x="508.48" y="121" font-size="18.0" fill="#e8148c" font-weight="bold" textLength="44.75" lengthAdjust="spacingAndGlyphs">24.90</text>
<text x="509.68" y="173" font-size="18.0" fill="#e8148c" font-weight="bold" textLength="44.51" lengthAdjust="spacingAndGlyphs">21.25</text>
<text x="511.77" y="224.3" font-size="18.0" fill="#e8148c" font-weight="bold" textLength="44.76" lengthAdjust="spacingAndGlyphs">18.00</text>
<text x="511.08" y="272.8" font-size="18.0" fill="#e8148c" font-weight="bold" textLength="44.34" lengthAdjust="spacingAndGlyphs">15.10</text>
<text x="512.18" y="319.8" font-size="18.0" fill="#e8148c" font-weight="bold" textLength="44.46" lengthAdjust="spacingAndGlyphs">11.96</text>
<text x="514.66" y="369.9" font-size="18.0" fill="#e8148c" font-weight="bold" textLength="45.16" lengthAdjust="spacingAndGlyphs">10.02</text>
<text x="521.12" y="422.3" font-size="18.0" fill="#e8148c" font-weight="bold" textLength="35.35" lengthAdjust="spacingAndGlyphs">8.29</text>
<text x="522.13" y="466.4" font-size="18.0" fill="#e8148c" font-weight="bold" textLength="34.86" lengthAdjust="spacingAndGlyphs">8.17</text>
<text x="522.78" y="515.2" font-size="18.0" fill="#e8148c" font-weight="bold" textLength="34.75" lengthAdjust="spacingAndGlyphs">2.70</text>
<text x="523.47" y="567.8" font-size="18.0" fill="#e8148c" font-weight="bold" textLength="34.77" lengthAdjust="spacingAndGlyphs">1.23</text>
<text x="521.31" y="616.1" font-size="18.0" fill="#e8148c" font-weight="bold" textLength="40.51" lengthAdjust="spacingAndGlyphs">-0.32</text>
<text x="305.5" y="673.8" font-size="17.83" fill="#e4002b" font-weight="bold" textLength="90.59" lengthAdjust="spacingAndGlyphs">Hours (LT)</text>
<text x="78.21" y="627.4" font-size="7.88" fill="#111" font-weight="bold" textLength="80.49" lengthAdjust="spacingAndGlyphs">0+ 0+ 1+ 1+ 1o 0+ 0+ 1-</text>
<text x="192.34" y="627.4" font-size="7.88" fill="#111" font-weight="bold" textLength="76.95" lengthAdjust="spacingAndGlyphs">1- 1- 0+ 1+ 1o 0+ 1o 0+</text>
<text x="164.17" y="631.2" font-size="12.32" fill="#111" textLength="15.36" lengthAdjust="spacingAndGlyphs">Kp</text>
<text x="77.58" y="586.5" font-size="11.3" fill="#222" textLength="25.23" lengthAdjust="spacingAndGlyphs">Ap=4</text>
<text x="194.48" y="590.7" font-size="11.3" fill="#222" textLength="25.39" lengthAdjust="spacingAndGlyphs">Ap=3</text>
<text x="78.09" y="658.8" font-size="8.99" fill="#333" textLength="37.29" lengthAdjust="spacingAndGlyphs">TIR-ABG</text>
<text x="190.99" y="658.8" font-size="8.99" fill="#333" textLength="37.7" lengthAdjust="spacingAndGlyphs">TIR-ABG</text>
<text x="133.67" y="662.9" font-size="12.17" fill="#dc0a3c" font-weight="bold" textLength="23.48" lengthAdjust="spacingAndGlyphs">EEJ</text>
<text x="244.27" y="663.7" font-size="11.88" fill="#dc0a3c" font-weight="bold" textLength="23.37" lengthAdjust="spacingAndGlyphs">EEJ</text>
</svg>
</body></html>
